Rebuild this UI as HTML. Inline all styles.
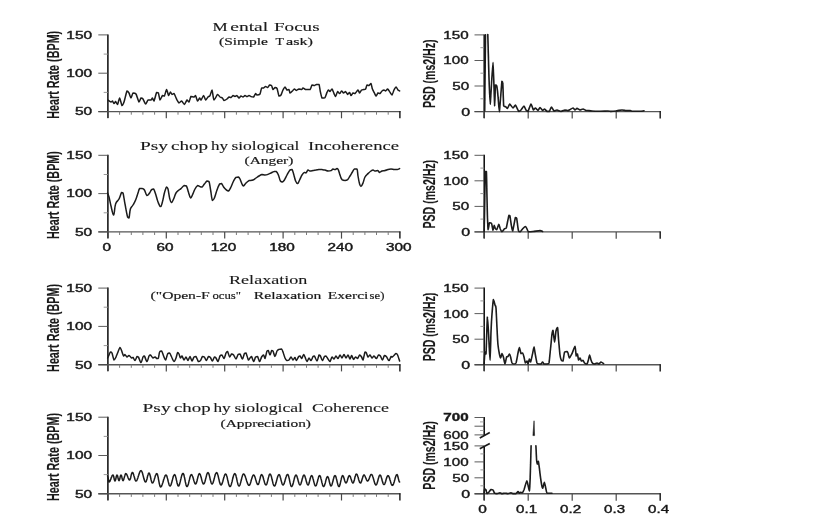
<!DOCTYPE html>
<html><head><meta charset="utf-8"><title>HRV panels</title>
<style>
html,body{margin:0;padding:0;background:#fff;}
body{width:815px;height:532px;overflow:hidden;font-family:"Liberation Sans",sans-serif;}
svg{display:block;}
</style></head><body>
<svg width="815" height="532" viewBox="0 0 815 532">
<defs><filter id="soft" x="-2%" y="-2%" width="104%" height="104%"><feGaussianBlur stdDeviation="0.5"/></filter></defs>
<rect width="815" height="532" fill="#fff"/>
<g filter="url(#soft)">
<line x1="107.9" y1="34.4" x2="107.9" y2="118.0" stroke="#111" stroke-width="1.55"/>
<line x1="98.3" y1="111.6" x2="400.4" y2="111.6" stroke="#555" stroke-width="1.4"/>
<line x1="98.3" y1="111.6" x2="107.9" y2="111.6" stroke="#4a4a4a" stroke-width="0.9"/>
<text x="92.1" y="115.4" font-family="Liberation Sans" font-size="10.5" font-weight="normal" text-anchor="end" fill="#1a1a1a" textLength="17.2" lengthAdjust="spacingAndGlyphs" stroke="#1a1a1a" stroke-width="0.4">50</text>
<line x1="98.3" y1="73.2" x2="107.9" y2="73.2" stroke="#4a4a4a" stroke-width="0.9"/>
<text x="92.1" y="77.0" font-family="Liberation Sans" font-size="10.5" font-weight="normal" text-anchor="end" fill="#1a1a1a" textLength="25.8" lengthAdjust="spacingAndGlyphs" stroke="#1a1a1a" stroke-width="0.4">100</text>
<line x1="98.3" y1="34.9" x2="107.9" y2="34.9" stroke="#4a4a4a" stroke-width="0.9"/>
<text x="92.1" y="38.7" font-family="Liberation Sans" font-size="10.5" font-weight="normal" text-anchor="end" fill="#1a1a1a" textLength="25.8" lengthAdjust="spacingAndGlyphs" stroke="#1a1a1a" stroke-width="0.4">150</text>
<line x1="103.7" y1="92.4" x2="107.9" y2="92.4" stroke="#8c8c8c" stroke-width="0.9"/>
<line x1="103.7" y1="54.1" x2="107.9" y2="54.1" stroke="#8c8c8c" stroke-width="0.9"/>
<line x1="107.9" y1="111.6" x2="107.9" y2="118.3" stroke="#4a4a4a" stroke-width="1.2"/>
<line x1="119.6" y1="111.6" x2="119.6" y2="114.7" stroke="#7a7a7a" stroke-width="1.0"/>
<line x1="131.3" y1="111.6" x2="131.3" y2="114.7" stroke="#7a7a7a" stroke-width="1.0"/>
<line x1="142.9" y1="111.6" x2="142.9" y2="114.7" stroke="#7a7a7a" stroke-width="1.0"/>
<line x1="154.6" y1="111.6" x2="154.6" y2="114.7" stroke="#7a7a7a" stroke-width="1.0"/>
<line x1="166.3" y1="111.6" x2="166.3" y2="118.3" stroke="#4a4a4a" stroke-width="1.2"/>
<line x1="178.0" y1="111.6" x2="178.0" y2="114.7" stroke="#7a7a7a" stroke-width="1.0"/>
<line x1="189.7" y1="111.6" x2="189.7" y2="114.7" stroke="#7a7a7a" stroke-width="1.0"/>
<line x1="201.3" y1="111.6" x2="201.3" y2="114.7" stroke="#7a7a7a" stroke-width="1.0"/>
<line x1="213.0" y1="111.6" x2="213.0" y2="114.7" stroke="#7a7a7a" stroke-width="1.0"/>
<line x1="224.7" y1="111.6" x2="224.7" y2="118.3" stroke="#4a4a4a" stroke-width="1.2"/>
<line x1="236.4" y1="111.6" x2="236.4" y2="114.7" stroke="#7a7a7a" stroke-width="1.0"/>
<line x1="248.1" y1="111.6" x2="248.1" y2="114.7" stroke="#7a7a7a" stroke-width="1.0"/>
<line x1="259.7" y1="111.6" x2="259.7" y2="114.7" stroke="#7a7a7a" stroke-width="1.0"/>
<line x1="271.4" y1="111.6" x2="271.4" y2="114.7" stroke="#7a7a7a" stroke-width="1.0"/>
<line x1="283.1" y1="111.6" x2="283.1" y2="118.3" stroke="#4a4a4a" stroke-width="1.2"/>
<line x1="294.8" y1="111.6" x2="294.8" y2="114.7" stroke="#7a7a7a" stroke-width="1.0"/>
<line x1="306.5" y1="111.6" x2="306.5" y2="114.7" stroke="#7a7a7a" stroke-width="1.0"/>
<line x1="318.1" y1="111.6" x2="318.1" y2="114.7" stroke="#7a7a7a" stroke-width="1.0"/>
<line x1="329.8" y1="111.6" x2="329.8" y2="114.7" stroke="#7a7a7a" stroke-width="1.0"/>
<line x1="341.5" y1="111.6" x2="341.5" y2="118.3" stroke="#4a4a4a" stroke-width="1.2"/>
<line x1="353.2" y1="111.6" x2="353.2" y2="114.7" stroke="#7a7a7a" stroke-width="1.0"/>
<line x1="364.9" y1="111.6" x2="364.9" y2="114.7" stroke="#7a7a7a" stroke-width="1.0"/>
<line x1="376.5" y1="111.6" x2="376.5" y2="114.7" stroke="#7a7a7a" stroke-width="1.0"/>
<line x1="388.2" y1="111.6" x2="388.2" y2="114.7" stroke="#7a7a7a" stroke-width="1.0"/>
<line x1="399.9" y1="111.1" x2="399.9" y2="118.3" stroke="#222" stroke-width="1.5"/>
<g transform="translate(52.6,74.8) rotate(-90)">
<text x="0.0" y="6.1" font-family="Liberation Sans" font-size="17" font-weight="bold" text-anchor="middle" fill="#1a1a1a" textLength="88.0" lengthAdjust="spacingAndGlyphs" stroke="#1a1a1a" stroke-width="0.15" stroke-linejoin="round">Heart Rate (BPM)</text>
</g>
<line x1="107.9" y1="154.8" x2="107.9" y2="238.3" stroke="#111" stroke-width="1.55"/>
<line x1="98.3" y1="231.9" x2="400.4" y2="231.9" stroke="#555" stroke-width="1.4"/>
<line x1="98.3" y1="231.9" x2="107.9" y2="231.9" stroke="#4a4a4a" stroke-width="0.9"/>
<text x="92.1" y="235.7" font-family="Liberation Sans" font-size="10.5" font-weight="normal" text-anchor="end" fill="#1a1a1a" textLength="17.2" lengthAdjust="spacingAndGlyphs" stroke="#1a1a1a" stroke-width="0.4">50</text>
<line x1="98.3" y1="193.6" x2="107.9" y2="193.6" stroke="#4a4a4a" stroke-width="0.9"/>
<text x="92.1" y="197.4" font-family="Liberation Sans" font-size="10.5" font-weight="normal" text-anchor="end" fill="#1a1a1a" textLength="25.8" lengthAdjust="spacingAndGlyphs" stroke="#1a1a1a" stroke-width="0.4">100</text>
<line x1="98.3" y1="155.3" x2="107.9" y2="155.3" stroke="#4a4a4a" stroke-width="0.9"/>
<text x="92.1" y="159.1" font-family="Liberation Sans" font-size="10.5" font-weight="normal" text-anchor="end" fill="#1a1a1a" textLength="25.8" lengthAdjust="spacingAndGlyphs" stroke="#1a1a1a" stroke-width="0.4">150</text>
<line x1="103.7" y1="212.8" x2="107.9" y2="212.8" stroke="#8c8c8c" stroke-width="0.9"/>
<line x1="103.7" y1="174.5" x2="107.9" y2="174.5" stroke="#8c8c8c" stroke-width="0.9"/>
<line x1="107.9" y1="231.9" x2="107.9" y2="238.6" stroke="#4a4a4a" stroke-width="1.2"/>
<line x1="119.6" y1="231.9" x2="119.6" y2="235.0" stroke="#7a7a7a" stroke-width="1.0"/>
<line x1="131.3" y1="231.9" x2="131.3" y2="235.0" stroke="#7a7a7a" stroke-width="1.0"/>
<line x1="142.9" y1="231.9" x2="142.9" y2="235.0" stroke="#7a7a7a" stroke-width="1.0"/>
<line x1="154.6" y1="231.9" x2="154.6" y2="235.0" stroke="#7a7a7a" stroke-width="1.0"/>
<line x1="166.3" y1="231.9" x2="166.3" y2="238.6" stroke="#4a4a4a" stroke-width="1.2"/>
<line x1="178.0" y1="231.9" x2="178.0" y2="235.0" stroke="#7a7a7a" stroke-width="1.0"/>
<line x1="189.7" y1="231.9" x2="189.7" y2="235.0" stroke="#7a7a7a" stroke-width="1.0"/>
<line x1="201.3" y1="231.9" x2="201.3" y2="235.0" stroke="#7a7a7a" stroke-width="1.0"/>
<line x1="213.0" y1="231.9" x2="213.0" y2="235.0" stroke="#7a7a7a" stroke-width="1.0"/>
<line x1="224.7" y1="231.9" x2="224.7" y2="238.6" stroke="#4a4a4a" stroke-width="1.2"/>
<line x1="236.4" y1="231.9" x2="236.4" y2="235.0" stroke="#7a7a7a" stroke-width="1.0"/>
<line x1="248.1" y1="231.9" x2="248.1" y2="235.0" stroke="#7a7a7a" stroke-width="1.0"/>
<line x1="259.7" y1="231.9" x2="259.7" y2="235.0" stroke="#7a7a7a" stroke-width="1.0"/>
<line x1="271.4" y1="231.9" x2="271.4" y2="235.0" stroke="#7a7a7a" stroke-width="1.0"/>
<line x1="283.1" y1="231.9" x2="283.1" y2="238.6" stroke="#4a4a4a" stroke-width="1.2"/>
<line x1="294.8" y1="231.9" x2="294.8" y2="235.0" stroke="#7a7a7a" stroke-width="1.0"/>
<line x1="306.5" y1="231.9" x2="306.5" y2="235.0" stroke="#7a7a7a" stroke-width="1.0"/>
<line x1="318.1" y1="231.9" x2="318.1" y2="235.0" stroke="#7a7a7a" stroke-width="1.0"/>
<line x1="329.8" y1="231.9" x2="329.8" y2="235.0" stroke="#7a7a7a" stroke-width="1.0"/>
<line x1="341.5" y1="231.9" x2="341.5" y2="238.6" stroke="#4a4a4a" stroke-width="1.2"/>
<line x1="353.2" y1="231.9" x2="353.2" y2="235.0" stroke="#7a7a7a" stroke-width="1.0"/>
<line x1="364.9" y1="231.9" x2="364.9" y2="235.0" stroke="#7a7a7a" stroke-width="1.0"/>
<line x1="376.5" y1="231.9" x2="376.5" y2="235.0" stroke="#7a7a7a" stroke-width="1.0"/>
<line x1="388.2" y1="231.9" x2="388.2" y2="235.0" stroke="#7a7a7a" stroke-width="1.0"/>
<line x1="399.9" y1="231.4" x2="399.9" y2="238.6" stroke="#222" stroke-width="1.5"/>
<g transform="translate(52.6,195.1) rotate(-90)">
<text x="0.0" y="6.1" font-family="Liberation Sans" font-size="17" font-weight="bold" text-anchor="middle" fill="#1a1a1a" textLength="88.0" lengthAdjust="spacingAndGlyphs" stroke="#1a1a1a" stroke-width="0.15" stroke-linejoin="round">Heart Rate (BPM)</text>
</g>
<line x1="107.9" y1="287.6" x2="107.9" y2="371.1" stroke="#111" stroke-width="1.55"/>
<line x1="98.3" y1="364.7" x2="400.4" y2="364.7" stroke="#555" stroke-width="1.4"/>
<line x1="98.3" y1="364.7" x2="107.9" y2="364.7" stroke="#4a4a4a" stroke-width="0.9"/>
<text x="92.1" y="368.5" font-family="Liberation Sans" font-size="10.5" font-weight="normal" text-anchor="end" fill="#1a1a1a" textLength="17.2" lengthAdjust="spacingAndGlyphs" stroke="#1a1a1a" stroke-width="0.4">50</text>
<line x1="98.3" y1="326.4" x2="107.9" y2="326.4" stroke="#4a4a4a" stroke-width="0.9"/>
<text x="92.1" y="330.2" font-family="Liberation Sans" font-size="10.5" font-weight="normal" text-anchor="end" fill="#1a1a1a" textLength="25.8" lengthAdjust="spacingAndGlyphs" stroke="#1a1a1a" stroke-width="0.4">100</text>
<line x1="98.3" y1="288.1" x2="107.9" y2="288.1" stroke="#4a4a4a" stroke-width="0.9"/>
<text x="92.1" y="291.9" font-family="Liberation Sans" font-size="10.5" font-weight="normal" text-anchor="end" fill="#1a1a1a" textLength="25.8" lengthAdjust="spacingAndGlyphs" stroke="#1a1a1a" stroke-width="0.4">150</text>
<line x1="103.7" y1="345.6" x2="107.9" y2="345.6" stroke="#8c8c8c" stroke-width="0.9"/>
<line x1="103.7" y1="307.2" x2="107.9" y2="307.2" stroke="#8c8c8c" stroke-width="0.9"/>
<line x1="107.9" y1="364.7" x2="107.9" y2="371.4" stroke="#4a4a4a" stroke-width="1.2"/>
<line x1="119.6" y1="364.7" x2="119.6" y2="367.8" stroke="#7a7a7a" stroke-width="1.0"/>
<line x1="131.3" y1="364.7" x2="131.3" y2="367.8" stroke="#7a7a7a" stroke-width="1.0"/>
<line x1="142.9" y1="364.7" x2="142.9" y2="367.8" stroke="#7a7a7a" stroke-width="1.0"/>
<line x1="154.6" y1="364.7" x2="154.6" y2="367.8" stroke="#7a7a7a" stroke-width="1.0"/>
<line x1="166.3" y1="364.7" x2="166.3" y2="371.4" stroke="#4a4a4a" stroke-width="1.2"/>
<line x1="178.0" y1="364.7" x2="178.0" y2="367.8" stroke="#7a7a7a" stroke-width="1.0"/>
<line x1="189.7" y1="364.7" x2="189.7" y2="367.8" stroke="#7a7a7a" stroke-width="1.0"/>
<line x1="201.3" y1="364.7" x2="201.3" y2="367.8" stroke="#7a7a7a" stroke-width="1.0"/>
<line x1="213.0" y1="364.7" x2="213.0" y2="367.8" stroke="#7a7a7a" stroke-width="1.0"/>
<line x1="224.7" y1="364.7" x2="224.7" y2="371.4" stroke="#4a4a4a" stroke-width="1.2"/>
<line x1="236.4" y1="364.7" x2="236.4" y2="367.8" stroke="#7a7a7a" stroke-width="1.0"/>
<line x1="248.1" y1="364.7" x2="248.1" y2="367.8" stroke="#7a7a7a" stroke-width="1.0"/>
<line x1="259.7" y1="364.7" x2="259.7" y2="367.8" stroke="#7a7a7a" stroke-width="1.0"/>
<line x1="271.4" y1="364.7" x2="271.4" y2="367.8" stroke="#7a7a7a" stroke-width="1.0"/>
<line x1="283.1" y1="364.7" x2="283.1" y2="371.4" stroke="#4a4a4a" stroke-width="1.2"/>
<line x1="294.8" y1="364.7" x2="294.8" y2="367.8" stroke="#7a7a7a" stroke-width="1.0"/>
<line x1="306.5" y1="364.7" x2="306.5" y2="367.8" stroke="#7a7a7a" stroke-width="1.0"/>
<line x1="318.1" y1="364.7" x2="318.1" y2="367.8" stroke="#7a7a7a" stroke-width="1.0"/>
<line x1="329.8" y1="364.7" x2="329.8" y2="367.8" stroke="#7a7a7a" stroke-width="1.0"/>
<line x1="341.5" y1="364.7" x2="341.5" y2="371.4" stroke="#4a4a4a" stroke-width="1.2"/>
<line x1="353.2" y1="364.7" x2="353.2" y2="367.8" stroke="#7a7a7a" stroke-width="1.0"/>
<line x1="364.9" y1="364.7" x2="364.9" y2="367.8" stroke="#7a7a7a" stroke-width="1.0"/>
<line x1="376.5" y1="364.7" x2="376.5" y2="367.8" stroke="#7a7a7a" stroke-width="1.0"/>
<line x1="388.2" y1="364.7" x2="388.2" y2="367.8" stroke="#7a7a7a" stroke-width="1.0"/>
<line x1="399.9" y1="364.2" x2="399.9" y2="371.4" stroke="#222" stroke-width="1.5"/>
<g transform="translate(52.6,327.9) rotate(-90)">
<text x="0.0" y="6.1" font-family="Liberation Sans" font-size="17" font-weight="bold" text-anchor="middle" fill="#1a1a1a" textLength="88.0" lengthAdjust="spacingAndGlyphs" stroke="#1a1a1a" stroke-width="0.15" stroke-linejoin="round">Heart Rate (BPM)</text>
</g>
<line x1="107.9" y1="416.7" x2="107.9" y2="500.2" stroke="#111" stroke-width="1.55"/>
<line x1="98.3" y1="493.8" x2="400.4" y2="493.8" stroke="#555" stroke-width="1.4"/>
<line x1="98.3" y1="493.8" x2="107.9" y2="493.8" stroke="#4a4a4a" stroke-width="0.9"/>
<text x="92.1" y="497.6" font-family="Liberation Sans" font-size="10.5" font-weight="normal" text-anchor="end" fill="#1a1a1a" textLength="17.2" lengthAdjust="spacingAndGlyphs" stroke="#1a1a1a" stroke-width="0.4">50</text>
<line x1="98.3" y1="455.5" x2="107.9" y2="455.5" stroke="#4a4a4a" stroke-width="0.9"/>
<text x="92.1" y="459.3" font-family="Liberation Sans" font-size="10.5" font-weight="normal" text-anchor="end" fill="#1a1a1a" textLength="25.8" lengthAdjust="spacingAndGlyphs" stroke="#1a1a1a" stroke-width="0.4">100</text>
<line x1="98.3" y1="417.2" x2="107.9" y2="417.2" stroke="#4a4a4a" stroke-width="0.9"/>
<text x="92.1" y="421.0" font-family="Liberation Sans" font-size="10.5" font-weight="normal" text-anchor="end" fill="#1a1a1a" textLength="25.8" lengthAdjust="spacingAndGlyphs" stroke="#1a1a1a" stroke-width="0.4">150</text>
<line x1="103.7" y1="474.6" x2="107.9" y2="474.6" stroke="#8c8c8c" stroke-width="0.9"/>
<line x1="103.7" y1="436.4" x2="107.9" y2="436.4" stroke="#8c8c8c" stroke-width="0.9"/>
<line x1="107.9" y1="493.8" x2="107.9" y2="500.5" stroke="#4a4a4a" stroke-width="1.2"/>
<line x1="119.6" y1="493.8" x2="119.6" y2="496.9" stroke="#7a7a7a" stroke-width="1.0"/>
<line x1="131.3" y1="493.8" x2="131.3" y2="496.9" stroke="#7a7a7a" stroke-width="1.0"/>
<line x1="142.9" y1="493.8" x2="142.9" y2="496.9" stroke="#7a7a7a" stroke-width="1.0"/>
<line x1="154.6" y1="493.8" x2="154.6" y2="496.9" stroke="#7a7a7a" stroke-width="1.0"/>
<line x1="166.3" y1="493.8" x2="166.3" y2="500.5" stroke="#4a4a4a" stroke-width="1.2"/>
<line x1="178.0" y1="493.8" x2="178.0" y2="496.9" stroke="#7a7a7a" stroke-width="1.0"/>
<line x1="189.7" y1="493.8" x2="189.7" y2="496.9" stroke="#7a7a7a" stroke-width="1.0"/>
<line x1="201.3" y1="493.8" x2="201.3" y2="496.9" stroke="#7a7a7a" stroke-width="1.0"/>
<line x1="213.0" y1="493.8" x2="213.0" y2="496.9" stroke="#7a7a7a" stroke-width="1.0"/>
<line x1="224.7" y1="493.8" x2="224.7" y2="500.5" stroke="#4a4a4a" stroke-width="1.2"/>
<line x1="236.4" y1="493.8" x2="236.4" y2="496.9" stroke="#7a7a7a" stroke-width="1.0"/>
<line x1="248.1" y1="493.8" x2="248.1" y2="496.9" stroke="#7a7a7a" stroke-width="1.0"/>
<line x1="259.7" y1="493.8" x2="259.7" y2="496.9" stroke="#7a7a7a" stroke-width="1.0"/>
<line x1="271.4" y1="493.8" x2="271.4" y2="496.9" stroke="#7a7a7a" stroke-width="1.0"/>
<line x1="283.1" y1="493.8" x2="283.1" y2="500.5" stroke="#4a4a4a" stroke-width="1.2"/>
<line x1="294.8" y1="493.8" x2="294.8" y2="496.9" stroke="#7a7a7a" stroke-width="1.0"/>
<line x1="306.5" y1="493.8" x2="306.5" y2="496.9" stroke="#7a7a7a" stroke-width="1.0"/>
<line x1="318.1" y1="493.8" x2="318.1" y2="496.9" stroke="#7a7a7a" stroke-width="1.0"/>
<line x1="329.8" y1="493.8" x2="329.8" y2="496.9" stroke="#7a7a7a" stroke-width="1.0"/>
<line x1="341.5" y1="493.8" x2="341.5" y2="500.5" stroke="#4a4a4a" stroke-width="1.2"/>
<line x1="353.2" y1="493.8" x2="353.2" y2="496.9" stroke="#7a7a7a" stroke-width="1.0"/>
<line x1="364.9" y1="493.8" x2="364.9" y2="496.9" stroke="#7a7a7a" stroke-width="1.0"/>
<line x1="376.5" y1="493.8" x2="376.5" y2="496.9" stroke="#7a7a7a" stroke-width="1.0"/>
<line x1="388.2" y1="493.8" x2="388.2" y2="496.9" stroke="#7a7a7a" stroke-width="1.0"/>
<line x1="399.9" y1="493.3" x2="399.9" y2="500.5" stroke="#222" stroke-width="1.5"/>
<g transform="translate(52.6,457.0) rotate(-90)">
<text x="0.0" y="6.1" font-family="Liberation Sans" font-size="17" font-weight="bold" text-anchor="middle" fill="#1a1a1a" textLength="88.0" lengthAdjust="spacingAndGlyphs" stroke="#1a1a1a" stroke-width="0.15" stroke-linejoin="round">Heart Rate (BPM)</text>
</g>
<text x="106.7" y="250.7" font-family="Liberation Sans" font-size="10" font-weight="normal" text-anchor="middle" fill="#1a1a1a" textLength="8.5" lengthAdjust="spacingAndGlyphs" stroke="#1a1a1a" stroke-width="0.4">0</text>
<text x="165.1" y="250.7" font-family="Liberation Sans" font-size="10" font-weight="normal" text-anchor="middle" fill="#1a1a1a" textLength="17.0" lengthAdjust="spacingAndGlyphs" stroke="#1a1a1a" stroke-width="0.4">60</text>
<text x="223.5" y="250.7" font-family="Liberation Sans" font-size="10" font-weight="normal" text-anchor="middle" fill="#1a1a1a" textLength="25.5" lengthAdjust="spacingAndGlyphs" stroke="#1a1a1a" stroke-width="0.4">120</text>
<text x="281.9" y="250.7" font-family="Liberation Sans" font-size="10" font-weight="normal" text-anchor="middle" fill="#1a1a1a" textLength="25.5" lengthAdjust="spacingAndGlyphs" stroke="#1a1a1a" stroke-width="0.4">180</text>
<text x="340.3" y="250.7" font-family="Liberation Sans" font-size="10" font-weight="normal" text-anchor="middle" fill="#1a1a1a" textLength="25.5" lengthAdjust="spacingAndGlyphs" stroke="#1a1a1a" stroke-width="0.4">240</text>
<text x="398.7" y="250.7" font-family="Liberation Sans" font-size="10" font-weight="normal" text-anchor="middle" fill="#1a1a1a" textLength="25.5" lengthAdjust="spacingAndGlyphs" stroke="#1a1a1a" stroke-width="0.4">300</text>
<path d="M108.0,100.0 C108.3,100.2 110.5,101.9 111.0,102.0 C111.5,102.0 112.1,101.0 112.4,101.0 C112.8,101.2 113.6,103.5 114.0,103.6 C114.4,103.6 115.2,101.6 115.6,101.6 C116.0,101.7 117.1,104.4 117.6,104.4 C118.1,104.0 119.1,98.0 119.6,98.0 C120.1,98.1 121.5,105.1 122.0,105.6 C122.5,105.6 123.4,103.7 124.0,102.0 C124.6,100.3 126.4,92.0 127.0,91.0 C127.6,91.0 128.5,92.2 129.0,93.0 C129.5,93.8 130.5,98.0 131.0,98.0 C131.5,98.0 132.4,93.5 133.0,93.0 C133.6,93.0 135.3,93.0 136.0,94.0 C136.7,95.0 138.4,101.5 139.0,102.0 C139.6,102.0 140.5,98.3 141.0,98.0 C141.5,98.0 142.5,98.3 143.0,99.0 C143.5,99.7 145.0,103.9 145.6,104.0 C146.2,104.0 147.4,100.5 148.0,100.0 C148.6,100.0 150.5,100.0 151.0,100.0 C151.5,99.8 152.1,98.0 152.4,98.0 C152.8,98.1 153.5,101.0 154.0,101.0 C154.5,100.3 156.1,93.3 156.6,92.4 C157.1,92.4 158.0,92.4 158.4,93.0 C158.8,93.9 159.5,99.7 160.0,100.0 C160.5,100.0 161.9,96.1 162.4,95.6 C162.9,95.6 163.9,96.0 164.4,96.0 C164.9,95.3 166.1,89.6 166.6,89.6 C167.1,89.6 168.2,95.3 168.6,95.6 C169.0,95.6 170.0,92.1 170.4,92.0 C170.8,92.0 171.6,94.2 172.0,94.4 C172.4,94.4 173.4,93.6 174.0,93.6 C174.6,94.3 176.4,98.9 177.0,100.0 C177.6,101.1 178.5,102.9 179.0,103.0 C179.5,103.0 181.0,101.0 181.6,101.0 C182.2,101.2 183.8,104.4 184.4,104.4 C185.0,104.3 186.5,100.3 187.0,100.0 C187.5,100.0 188.5,102.0 189.0,102.0 C189.5,101.6 190.4,97.0 191.0,96.4 C191.6,96.4 193.5,97.0 194.0,97.0 C194.5,96.9 195.2,95.6 195.6,95.6 C196.0,96.1 197.1,100.7 197.6,101.0 C198.1,101.0 199.2,98.1 199.6,98.0 C200.0,98.0 200.5,100.0 201.0,100.0 C201.5,99.7 203.1,95.6 203.6,95.6 C204.1,95.6 205.1,99.8 205.6,100.0 C206.1,100.0 207.5,97.5 208.0,97.0 C208.5,96.5 209.5,96.4 210.0,95.6 C210.5,94.8 211.5,90.0 212.0,90.0 C212.5,90.5 213.3,99.5 214.0,100.0 C214.7,100.0 216.9,94.8 217.6,94.4 C218.3,94.4 219.4,96.6 220.0,97.0 C220.6,97.4 221.9,97.6 222.4,98.0 C222.9,98.4 223.5,100.3 224.0,100.4 C224.5,100.4 226.4,99.4 227.0,99.0 C227.6,98.6 228.5,97.2 229.0,97.0 C229.5,97.0 230.5,97.6 231.0,97.6 C231.5,97.4 232.5,95.7 233.0,95.6 C233.5,95.6 234.5,96.4 235.0,96.4 C235.5,96.4 236.5,95.6 237.0,95.6 C237.5,95.8 238.5,98.0 239.0,98.0 C239.5,98.0 240.5,96.1 241.0,96.0 C241.5,96.0 242.5,97.0 243.0,97.0 C243.5,97.0 244.5,95.6 245.0,95.6 C245.5,95.6 246.5,96.6 247.0,96.6 C247.5,96.6 248.5,95.6 249.0,95.6 C249.5,95.6 250.5,96.4 251.0,96.6 C251.5,96.8 253.1,97.0 253.6,97.0 C254.1,96.7 255.2,93.8 255.6,93.6 C256.0,93.6 256.5,95.0 257.0,95.0 C257.5,95.0 259.5,94.8 260.0,94.0 C260.5,93.2 261.2,88.7 261.6,88.0 C262.0,88.0 263.1,88.0 263.6,88.0 C264.1,87.8 265.1,86.4 265.6,86.4 C266.1,86.4 267.1,87.6 267.6,87.6 C268.1,87.4 269.1,85.2 269.6,85.0 C270.1,85.0 271.2,85.1 271.6,85.6 C272.0,86.1 272.6,89.4 273.0,89.6 C273.4,89.6 274.5,87.7 275.0,87.6 C275.5,87.6 276.5,87.6 277.0,88.4 C277.5,89.4 278.5,95.2 279.0,96.0 C279.5,96.0 280.5,95.7 281.0,95.0 C281.5,94.3 282.5,90.9 283.0,90.0 C283.5,89.1 284.5,87.0 285.0,87.0 C285.5,87.0 286.5,89.7 287.0,90.0 C287.5,90.0 288.6,89.6 289.0,89.6 C289.4,89.9 289.6,92.8 290.0,93.0 C290.4,93.0 291.9,91.5 292.4,91.0 C292.9,90.5 293.9,89.1 294.4,89.0 C294.9,89.0 295.9,90.4 296.4,90.4 C296.9,90.4 298.4,89.1 299.0,89.0 C299.6,89.0 301.1,89.6 301.6,89.6 C302.1,89.5 302.5,88.0 303.0,88.0 C303.5,88.0 304.8,89.4 305.6,89.6 C306.4,89.6 309.3,89.6 310.0,89.6 C310.7,89.1 311.5,85.5 312.0,85.0 C312.5,85.0 313.9,85.6 314.4,85.6 C314.9,85.5 315.9,84.5 316.4,84.4 C316.9,84.4 318.5,84.4 319.0,84.4 C319.5,85.3 320.0,90.4 320.4,92.0 C320.8,93.6 321.5,97.3 322.0,98.0 C322.5,98.0 324.4,98.0 325.0,97.6 C325.6,96.9 326.6,93.3 327.0,92.4 C327.4,91.5 328.0,90.1 328.4,90.0 C328.8,90.0 329.6,91.6 330.0,91.6 C330.4,91.5 331.5,89.0 332.0,89.0 C332.5,89.2 333.6,92.7 334.0,93.6 C334.4,94.5 335.2,96.4 335.6,96.4 C336.0,96.2 337.1,91.9 337.6,91.6 C338.1,91.6 339.1,93.6 339.6,93.6 C340.1,93.5 341.1,91.1 341.6,91.0 C342.1,91.0 343.1,92.9 343.6,93.0 C344.1,93.0 345.1,91.6 345.6,91.6 C346.1,91.8 347.1,94.3 347.6,94.4 C348.1,94.4 349.2,92.4 349.6,92.4 C350.0,92.5 350.6,95.5 351.0,95.6 C351.4,95.6 352.5,93.2 353.0,93.0 C353.5,93.0 354.4,93.6 355.0,93.6 C355.6,93.2 357.5,90.1 358.0,90.0 C358.5,90.0 359.2,93.0 359.6,93.0 C360.0,93.0 361.1,90.4 361.6,90.0 C362.1,89.6 363.1,89.7 363.6,89.6 C364.1,89.5 365.2,89.5 365.6,89.0 C366.0,88.5 366.6,85.4 367.0,85.0 C367.4,85.0 368.5,85.6 369.0,85.6 C369.5,85.4 370.6,83.6 371.0,83.6 C371.4,84.0 372.0,87.9 372.4,89.0 C372.8,90.1 374.0,92.2 374.4,93.0 C374.8,93.8 375.6,96.0 376.0,96.0 C376.4,96.0 377.5,93.3 378.0,93.0 C378.5,93.0 379.5,93.6 380.0,93.6 C380.5,93.4 381.5,91.4 382.0,91.0 C382.5,90.6 383.6,90.0 384.0,90.0 C384.4,90.0 385.2,91.0 385.6,91.0 C386.0,90.9 387.1,89.0 387.6,89.0 C388.1,89.1 389.1,90.9 389.6,91.6 C390.1,92.3 391.5,95.0 392.0,95.0 C392.5,94.8 393.5,90.9 394.0,90.0 C394.5,89.1 395.5,87.0 396.0,87.0 C396.5,87.0 397.6,89.5 398.0,90.0 C398.4,90.5 399.4,90.9 399.6,91.0" fill="none" stroke="#1a1a1a" stroke-width="1.5" stroke-linejoin="round" stroke-linecap="round"/>
<path d="M107.6,193.0 C107.9,193.8 108.3,194.4 109.0,197.0 C109.7,199.6 110.1,202.4 111.0,206.0 C111.9,209.6 112.7,215.0 113.6,215.0 C114.5,214.6 114.5,207.2 115.6,204.0 C116.7,200.8 117.8,201.3 119.0,199.0 C120.2,196.7 120.8,193.6 121.6,192.4 C122.4,192.4 122.3,192.4 123.0,193.0 C123.7,195.3 124.1,199.2 125.0,204.0 C125.9,208.8 126.8,214.2 127.6,217.0 C128.4,218.0 128.4,218.0 129.0,218.0 C129.6,216.4 129.6,211.6 130.4,209.0 C131.2,206.4 132.0,206.8 133.0,205.0 C134.0,203.2 134.6,202.4 135.6,200.0 C136.6,197.6 137.2,195.3 138.0,193.0 C138.8,190.7 138.7,189.5 139.6,188.6 C140.5,188.6 141.4,188.6 142.4,188.6 C143.4,188.9 143.5,188.6 144.4,190.0 C145.3,191.4 146.0,195.0 147.0,195.6 C148.0,195.6 148.7,194.2 149.6,193.0 C150.5,191.8 150.8,190.4 151.6,189.6 C152.4,189.0 152.8,189.0 153.6,189.0 C154.4,189.9 154.7,191.4 155.6,194.0 C156.5,196.6 157.0,199.5 158.0,202.0 C159.0,204.5 159.7,206.6 160.6,206.6 C161.5,206.6 161.6,204.7 162.4,202.0 C163.2,199.3 163.6,196.0 164.4,193.0 C165.2,190.0 165.9,187.8 166.6,187.0 C167.3,187.0 167.4,187.0 168.0,189.0 C168.6,191.2 168.9,195.3 169.6,198.0 C170.3,200.7 170.6,202.4 171.4,202.6 C172.2,202.6 172.7,200.9 173.6,199.0 C174.5,197.1 174.9,194.8 176.0,193.0 C177.1,191.2 178.0,190.9 179.0,190.0 C180.0,189.1 180.0,189.5 181.0,188.6 C182.0,187.7 182.9,186.1 184.0,185.6 C185.1,185.6 185.5,185.6 186.4,186.0 C187.3,187.3 187.6,189.6 188.4,192.0 C189.2,194.4 189.8,197.4 190.6,198.0 C191.4,198.0 191.5,196.8 192.4,195.0 C193.3,193.2 194.0,190.9 195.0,189.0 C196.0,187.1 196.6,186.1 197.6,185.6 C198.6,185.6 199.1,186.3 200.0,186.6 C200.9,186.9 201.1,187.0 202.0,187.0 C202.9,186.5 203.4,185.2 204.4,184.0 C205.4,182.8 206.1,181.5 207.0,181.0 C207.9,181.0 208.3,181.0 209.0,181.6 C209.7,183.4 209.9,186.2 210.6,190.0 C211.3,193.8 211.6,198.8 212.4,200.4 C213.2,200.4 213.5,200.1 214.4,198.0 C215.3,195.9 216.0,192.8 217.0,190.0 C218.0,187.2 218.7,185.3 219.6,184.0 C220.5,183.6 220.8,183.6 221.6,183.6 C222.4,184.2 222.7,185.8 223.6,187.0 C224.5,188.2 225.0,188.8 226.0,189.6 C227.0,190.4 227.4,191.0 228.4,191.0 C229.4,190.5 230.0,189.0 231.0,187.0 C232.0,185.0 232.6,182.9 233.6,181.0 C234.6,179.1 235.0,178.2 236.0,177.4 C237.0,177.0 237.6,177.0 238.4,177.0 C239.2,177.3 239.3,177.6 240.0,179.0 C240.7,180.4 241.3,182.6 242.0,184.0 C242.7,185.4 242.6,186.0 243.4,186.0 C244.2,185.8 244.9,184.1 246.0,183.0 C247.1,181.9 248.2,181.1 249.0,180.6 C249.8,180.6 249.2,180.6 250.0,180.6 C250.8,180.5 251.8,180.5 253.0,180.0 C254.2,179.5 254.8,178.8 256.0,178.0 C257.2,177.2 257.8,176.7 259.0,176.0 C260.2,175.3 260.8,174.6 262.0,174.4 C263.2,174.4 263.8,175.0 265.0,175.0 C266.2,175.0 266.8,174.8 268.0,174.4 C269.2,174.0 269.8,173.6 271.0,173.0 C272.2,172.4 272.9,171.9 274.0,171.6 C275.1,171.6 275.5,171.6 276.4,171.6 C277.3,172.3 277.6,173.1 278.4,175.0 C279.2,176.9 279.6,179.6 280.4,181.0 C281.2,182.0 281.6,182.0 282.4,182.0 C283.2,181.8 283.5,181.4 284.4,180.0 C285.3,178.6 285.9,177.0 287.0,175.0 C288.1,173.0 289.0,171.1 290.0,170.0 C291.0,169.4 291.3,169.4 292.0,169.4 C292.7,170.2 292.9,171.7 293.6,174.0 C294.3,176.3 294.8,179.1 295.6,181.0 C296.4,182.9 296.8,183.6 297.6,183.6 C298.4,183.4 298.7,181.7 299.6,180.0 C300.5,178.3 301.0,176.5 302.0,175.0 C303.0,173.5 303.6,172.8 304.4,172.4 C305.2,172.4 305.3,173.0 306.0,173.0 C306.7,172.5 307.2,170.4 308.0,170.0 C308.8,170.0 309.0,170.9 310.0,171.0 C311.0,171.0 311.8,170.8 313.0,170.6 C314.2,170.4 314.8,170.2 316.0,170.0 C317.2,169.8 317.8,169.7 319.0,169.6 C320.2,169.6 320.8,169.6 322.0,169.6 C323.2,169.7 323.8,169.7 325.0,170.0 C326.2,170.3 326.8,170.9 328.0,171.0 C329.2,171.0 330.0,171.0 331.0,170.6 C332.0,170.2 332.2,169.2 333.0,169.0 C333.8,169.0 334.2,169.6 335.0,169.6 C335.8,169.5 336.3,168.6 337.0,168.6 C337.7,168.7 337.8,168.7 338.4,170.0 C339.0,171.3 339.3,173.1 340.0,175.0 C340.7,176.9 341.0,178.5 342.0,179.6 C343.0,180.4 343.9,180.4 345.0,180.4 C346.1,180.4 346.6,180.4 347.6,179.6 C348.6,178.7 349.0,177.5 350.0,176.0 C351.0,174.5 351.5,173.4 352.4,172.0 C353.3,170.6 353.5,169.6 354.4,169.0 C355.3,169.0 356.3,169.0 357.0,169.0 C357.7,170.4 357.5,173.0 358.0,176.0 C358.5,179.0 359.0,181.9 359.6,184.0 C360.2,186.1 360.3,186.4 361.0,186.4 C361.7,186.2 362.2,184.9 363.0,183.0 C363.8,181.1 364.0,178.9 365.0,177.0 C366.0,175.1 366.8,174.8 368.0,173.6 C369.2,172.4 370.0,171.7 371.0,171.0 C372.0,170.3 372.2,170.0 373.0,170.0 C373.8,170.0 374.0,170.9 375.0,171.0 C376.0,171.0 377.1,170.6 378.0,170.6 C378.9,170.9 378.8,172.3 379.6,172.4 C380.4,172.4 380.9,171.4 382.0,171.0 C383.1,170.6 383.8,170.9 385.0,170.6 C386.2,170.3 386.8,169.7 388.0,169.4 C389.2,169.1 389.8,169.0 391.0,169.0 C392.2,169.0 392.8,169.3 394.0,169.4 C395.2,169.5 395.9,169.6 397.0,169.6 C398.1,169.4 399.1,168.8 399.6,168.6" fill="none" stroke="#1a1a1a" stroke-width="1.5" stroke-linejoin="round" stroke-linecap="round"/>
<path d="M107.6,358.0 C107.8,357.6 108.6,355.9 109.0,355.0 C109.4,354.1 110.0,352.3 110.4,352.0 C110.9,352.0 111.5,352.0 112.0,353.0 C112.5,354.2 113.4,359.4 114.0,360.0 C114.6,360.0 115.4,358.2 116.0,357.0 C116.6,355.8 117.4,353.4 118.0,352.0 C118.6,350.6 119.5,347.6 120.0,347.4 C120.5,347.4 121.1,349.3 121.6,350.6 C122.1,351.9 123.1,355.4 123.6,356.0 C124.1,356.0 124.5,354.6 125.0,354.6 C125.5,354.8 126.4,356.9 127.0,357.0 C127.6,357.0 128.3,355.4 129.0,355.4 C129.7,355.5 131.0,357.7 131.6,358.0 C132.2,358.0 132.5,357.4 133.0,357.4 C133.5,357.8 134.4,360.6 135.0,360.6 C135.6,360.5 136.5,357.1 137.0,356.6 C137.5,356.6 137.8,356.6 138.4,357.0 C139.0,357.9 140.3,362.6 141.0,362.6 C141.7,362.6 142.5,358.0 143.0,357.0 C143.5,356.0 143.8,356.0 144.4,356.0 C145.0,356.7 146.3,361.6 147.0,361.6 C147.7,361.6 148.5,357.0 149.0,356.0 C149.5,355.0 149.8,355.0 150.4,355.0 C151.0,355.3 152.3,357.7 153.0,358.0 C153.7,358.0 154.4,357.0 155.0,357.0 C155.6,357.1 156.5,358.5 157.0,358.6 C157.5,358.6 158.0,358.6 158.4,358.0 C158.8,357.0 159.1,353.1 159.6,352.0 C160.1,351.0 161.0,351.0 161.6,351.0 C162.2,351.6 163.0,354.6 163.6,356.0 C164.2,357.4 165.0,360.0 165.6,360.0 C166.2,359.7 167.0,355.1 167.6,354.0 C168.2,353.0 169.0,353.0 169.6,353.0 C170.2,353.4 170.9,355.7 171.6,357.0 C172.3,358.3 173.3,361.5 174.0,361.6 C174.7,361.6 175.5,359.4 176.0,358.0 C176.5,356.6 177.2,353.2 177.6,352.6 C178.0,352.6 178.6,353.2 179.0,354.0 C179.4,354.8 180.0,357.7 180.4,358.0 C180.8,358.0 181.5,356.0 182.0,356.0 C182.5,356.3 183.4,359.9 184.0,360.0 C184.6,360.0 185.4,357.0 186.0,357.0 C186.6,357.1 187.4,360.6 188.0,360.6 C188.6,360.5 189.4,356.6 190.0,356.6 C190.6,356.7 191.4,360.9 192.0,361.0 C192.6,361.0 193.4,357.7 194.0,357.0 C194.6,356.6 195.3,356.6 196.0,356.6 C196.7,357.3 197.7,361.0 198.4,361.6 C199.1,361.6 199.8,361.4 200.4,360.6 C201.0,359.9 201.8,357.1 202.4,356.6 C203.0,356.6 203.8,356.6 204.4,357.0 C205.0,357.6 205.8,360.6 206.4,360.6 C207.0,360.5 207.8,357.1 208.4,356.6 C209.0,356.6 209.8,356.9 210.4,357.6 C211.0,358.3 211.8,361.0 212.4,361.0 C213.0,360.9 213.9,357.4 214.4,357.0 C214.9,357.0 215.5,357.3 216.0,358.0 C216.5,358.7 217.4,361.6 218.0,361.6 C218.6,361.3 219.4,357.0 220.0,356.0 C220.6,355.0 221.4,355.0 222.0,355.0 C222.6,355.4 223.4,358.6 224.0,358.6 C224.6,358.3 225.5,354.1 226.0,353.0 C226.5,351.9 227.1,351.4 227.6,351.4 C228.1,352.0 229.0,356.6 229.6,357.0 C230.2,357.0 231.0,354.3 231.6,354.0 C232.2,354.0 232.9,354.2 233.6,355.0 C234.3,355.8 235.3,359.0 236.0,359.0 C236.7,358.9 237.4,355.4 238.0,354.6 C238.6,354.0 239.3,354.0 240.0,354.0 C240.7,354.7 241.7,359.0 242.4,359.0 C243.1,358.9 243.9,354.5 244.4,353.6 C244.9,353.0 245.4,353.0 246.0,353.0 C246.6,354.0 247.8,359.2 248.4,360.0 C249.0,360.0 249.5,358.5 250.0,358.0 C250.5,357.5 251.1,356.6 251.6,356.6 C252.1,357.1 253.0,361.5 253.6,361.6 C254.2,361.6 255.0,357.8 255.6,357.0 C256.2,356.6 257.0,356.6 257.6,356.6 C258.2,357.3 259.0,361.5 259.6,361.6 C260.2,361.6 261.0,358.0 261.6,357.0 C262.2,356.0 263.1,355.0 263.6,355.0 C264.1,355.2 264.5,358.6 265.0,358.6 C265.5,358.0 266.5,352.2 267.0,351.0 C267.5,350.6 267.9,350.6 268.4,350.6 C268.8,351.2 269.5,355.0 270.0,355.0 C270.5,355.0 271.2,351.2 271.6,350.6 C272.1,350.6 272.5,350.6 273.0,351.0 C273.5,351.9 274.4,356.6 275.0,356.6 C275.6,356.6 276.4,352.1 277.0,351.0 C277.6,349.9 278.3,349.7 279.0,349.4 C279.7,349.1 281.0,349.0 281.6,349.0 C282.2,349.4 282.5,350.6 283.0,352.0 C283.5,353.4 284.4,356.7 285.0,358.0 C285.6,359.3 286.4,360.3 287.0,360.6 C287.6,360.6 288.4,360.5 289.0,360.0 C289.6,359.5 290.4,357.0 291.0,357.0 C291.6,357.0 292.4,359.9 293.0,360.0 C293.6,360.0 294.5,357.6 295.0,357.6 C295.5,357.7 295.9,360.6 296.4,360.6 C296.9,360.5 297.9,357.7 298.4,357.0 C298.9,356.3 299.5,356.0 300.0,356.0 C300.5,356.2 301.1,358.6 301.6,358.6 C302.1,358.4 303.1,354.8 303.6,354.6 C304.1,354.6 304.5,355.9 305.0,357.0 C305.5,358.1 306.4,361.5 307.0,361.6 C307.6,361.6 308.4,358.1 309.0,358.0 C309.6,358.0 310.4,360.6 311.0,360.6 C311.6,360.4 312.5,357.3 313.0,356.6 C313.5,356.0 313.8,356.0 314.4,356.0 C315.0,356.7 316.3,361.0 317.0,361.0 C317.7,360.9 318.5,355.8 319.0,355.0 C319.5,355.0 319.9,355.2 320.4,356.0 C320.9,356.8 321.8,360.5 322.4,360.6 C323.0,360.6 323.9,357.3 324.4,356.6 C324.9,356.0 325.5,356.0 326.0,356.0 C326.5,356.4 327.4,358.2 328.0,359.0 C328.6,359.8 329.4,361.6 330.0,361.6 C330.6,361.3 331.4,357.4 332.0,357.0 C332.6,357.0 333.4,359.0 334.0,359.0 C334.6,358.9 335.4,356.1 336.0,356.0 C336.6,356.0 337.4,358.6 338.0,358.6 C338.6,358.5 339.4,355.1 340.0,355.0 C340.6,355.0 341.4,358.0 342.0,358.0 C342.6,357.9 343.4,354.6 344.0,354.6 C344.6,354.6 345.4,357.9 346.0,358.0 C346.6,358.0 347.4,355.0 348.0,355.0 C348.6,355.1 349.5,358.9 350.0,359.0 C350.5,359.0 351.1,355.6 351.6,355.6 C352.1,355.7 353.0,359.2 353.6,359.4 C354.2,359.4 355.0,357.1 355.6,357.0 C356.2,357.0 357.0,358.6 357.6,358.6 C358.2,358.3 359.0,355.2 359.6,355.0 C360.2,355.0 361.1,356.2 361.6,357.0 C362.1,357.8 362.5,360.0 363.0,360.0 C363.5,359.2 364.5,353.1 365.0,352.0 C365.5,352.0 365.9,352.2 366.4,353.0 C366.8,353.8 367.5,356.7 368.0,357.0 C368.5,357.0 369.4,355.0 370.0,355.0 C370.6,355.1 371.4,357.9 372.0,358.0 C372.6,358.0 373.3,356.0 374.0,356.0 C374.7,356.1 375.7,358.6 376.4,358.6 C377.1,358.5 377.8,355.4 378.4,355.0 C379.0,355.0 379.8,355.2 380.4,356.0 C381.0,356.8 381.8,360.0 382.4,360.0 C383.0,359.9 383.8,356.1 384.4,355.6 C385.0,355.6 385.7,355.9 386.4,356.6 C387.1,357.4 388.3,360.6 389.0,360.6 C389.7,360.6 390.5,357.1 391.0,356.6 C391.5,356.6 391.9,357.0 392.4,357.0 C392.9,356.8 393.9,355.5 394.4,355.0 C394.9,354.5 395.5,353.6 396.0,353.6 C396.5,353.6 397.1,353.9 397.6,355.0 C398.1,356.1 399.3,360.1 399.6,361.0" fill="none" stroke="#1a1a1a" stroke-width="1.5" stroke-linejoin="round" stroke-linecap="round"/>
<polyline points="107.6,476.0 107.9,476.9 108.3,479.0 108.7,481.1 109.0,482.0 109.3,481.9 109.7,481.5 110.0,481.0 110.3,480.2 110.7,479.4 111.0,478.5 111.3,477.6 111.7,476.8 112.0,476.0 112.3,475.5 112.7,475.1 113.0,475.0 113.3,475.4 113.7,476.5 114.0,478.0 114.3,479.5 114.7,480.6 115.0,481.0 115.3,480.6 115.7,479.5 116.0,478.0 116.3,476.5 116.7,475.4 117.0,475.0 117.3,475.4 117.7,476.4 118.0,477.8 118.3,479.2 118.7,480.2 119.0,480.6 119.3,480.2 119.7,479.2 120.0,477.8 120.3,476.4 120.7,475.4 121.0,475.0 121.3,475.4 121.7,476.4 122.0,477.8 122.3,479.2 122.7,480.2 123.0,480.6 123.3,480.3 123.7,479.6 124.0,478.4 124.4,477.1 124.8,475.8 125.1,474.6 125.5,473.9 125.8,473.6 126.1,473.7 126.5,474.1 126.8,474.7 127.2,475.5 127.5,476.3 127.9,477.3 128.2,478.1 128.6,478.9 128.9,479.5 129.3,479.9 129.6,480.0 129.9,479.7 130.3,478.9 130.7,477.7 131.0,476.2 131.3,474.7 131.7,473.5 132.1,472.7 132.4,472.4 132.8,472.6 133.1,473.2 133.5,474.2 133.8,475.4 134.2,476.7 134.6,478.0 134.9,479.2 135.3,480.2 135.6,480.8 136.0,481.0 136.3,480.9 136.7,480.6 137.0,480.0 137.3,479.3 137.7,478.4 138.0,477.4 138.3,476.3 138.7,475.3 139.0,474.2 139.3,473.2 139.7,472.3 140.0,471.6 140.3,471.0 140.7,470.7 141.0,470.6 141.4,470.8 141.7,471.3 142.1,472.0 142.4,473.1 142.8,474.3 143.1,475.6 143.5,477.0 143.8,478.3 144.2,479.5 144.5,480.6 144.9,481.3 145.2,481.8 145.6,482.0 145.9,481.8 146.3,481.1 146.6,480.1 147.0,478.9 147.3,477.5 147.6,476.1 148.0,474.9 148.3,473.9 148.7,473.2 149.0,473.0 149.3,473.2 149.7,474.0 150.0,475.1 150.4,476.5 150.7,478.0 151.0,479.5 151.4,480.9 151.7,482.0 152.1,482.8 152.4,483.0 152.7,482.9 153.1,482.5 153.4,481.8 153.8,481.0 154.1,480.0 154.4,478.9 154.8,477.7 155.1,476.6 155.4,475.6 155.8,474.8 156.1,474.1 156.5,473.7 156.8,473.6 157.1,473.9 157.5,474.7 157.8,475.9 158.2,477.5 158.5,479.3 158.9,481.3 159.2,483.1 159.6,484.7 159.9,485.9 160.3,486.7 160.6,487.0 160.9,486.9 161.3,486.5 161.6,486.0 161.9,485.2 162.3,484.3 162.6,483.3 163.0,482.2 163.3,481.0 163.6,479.8 164.0,478.7 164.3,477.7 164.7,476.8 165.0,476.0 165.3,475.5 165.7,475.1 166.0,475.0 166.3,475.2 166.7,475.7 167.0,476.6 167.3,477.8 167.7,479.1 168.0,480.5 168.3,481.9 168.7,483.2 169.0,484.4 169.3,485.3 169.7,485.8 170.0,486.0 170.4,485.8 170.7,485.3 171.1,484.6 171.4,483.5 171.8,482.3 172.1,481.0 172.5,479.6 172.8,478.3 173.2,477.1 173.5,476.0 173.9,475.3 174.2,474.8 174.6,474.6 174.9,474.8 175.3,475.5 175.6,476.6 176.0,477.9 176.3,479.5 176.7,481.1 177.0,482.7 177.4,484.0 177.7,485.1 178.1,485.8 178.4,486.0 178.8,485.8 179.1,485.3 179.5,484.4 179.8,483.3 180.2,481.9 180.5,480.5 180.9,478.9 181.2,477.5 181.6,476.1 181.9,475.0 182.3,474.1 182.6,473.6 183.0,473.4 183.3,473.6 183.7,474.3 184.0,475.3 184.3,476.7 184.7,478.3 185.0,480.0 185.3,481.7 185.7,483.3 186.0,484.7 186.3,485.7 186.7,486.4 187.0,486.6 187.3,486.4 187.7,485.9 188.0,485.1 188.4,484.0 188.7,482.7 189.0,481.3 189.4,479.9 189.7,478.5 190.0,477.2 190.4,476.1 190.7,475.3 191.1,474.8 191.4,474.6 191.8,474.8 192.1,475.2 192.4,476.0 192.8,476.9 193.2,478.1 193.5,479.3 193.8,480.5 194.2,481.6 194.6,482.6 194.9,483.4 195.2,483.8 195.6,484.0 195.9,483.8 196.3,483.2 196.6,482.2 197.0,481.0 197.3,479.5 197.7,478.1 198.0,476.6 198.4,475.4 198.7,474.4 199.1,473.8 199.4,473.6 199.8,473.8 200.1,474.3 200.4,475.1 200.8,476.2 201.2,477.5 201.5,478.8 201.8,480.1 202.2,481.4 202.6,482.5 202.9,483.3 203.2,483.8 203.6,484.0 203.9,483.8 204.3,483.3 204.6,482.6 205.0,481.5 205.3,480.3 205.6,479.0 206.0,477.6 206.3,476.3 206.6,475.1 207.0,474.0 207.3,473.3 207.7,472.8 208.0,472.6 208.3,472.8 208.7,473.4 209.0,474.3 209.3,475.4 209.7,476.8 210.0,478.3 210.3,479.8 210.7,481.1 211.0,482.3 211.3,483.2 211.7,483.8 212.0,484.0 212.4,483.8 212.7,483.3 213.1,482.6 213.4,481.5 213.8,480.3 214.1,479.0 214.5,477.6 214.8,476.3 215.2,475.1 215.5,474.0 215.9,473.3 216.2,472.8 216.6,472.6 216.9,472.8 217.3,473.3 217.6,474.2 218.0,475.3 218.3,476.6 218.6,478.1 219.0,479.5 219.3,481.0 219.6,482.3 220.0,483.4 220.3,484.3 220.7,484.8 221.0,485.0 221.4,484.8 221.7,484.4 222.1,483.6 222.4,482.6 222.8,481.5 223.1,480.2 223.5,478.8 223.8,477.5 224.2,476.4 224.5,475.4 224.9,474.6 225.2,474.2 225.6,474.0 225.9,474.2 226.3,474.7 226.6,475.6 227.0,476.7 227.3,478.1 227.6,479.5 228.0,481.1 228.3,482.5 228.6,483.9 229.0,485.0 229.3,485.9 229.7,486.4 230.0,486.6 230.3,486.4 230.7,486.0 231.0,485.2 231.4,484.2 231.7,482.9 232.1,481.5 232.4,480.1 232.7,478.7 233.1,477.3 233.4,476.0 233.8,475.0 234.1,474.2 234.5,473.8 234.8,473.6 235.2,473.8 235.5,474.4 235.9,475.4 236.2,476.7 236.6,478.2 236.9,479.8 237.2,481.4 237.6,482.9 237.9,484.2 238.3,485.2 238.7,485.8 239.0,486.0 239.4,485.8 239.7,485.3 240.1,484.5 240.4,483.4 240.8,482.1 241.1,480.7 241.5,479.3 241.8,477.9 242.2,476.6 242.5,475.5 242.9,474.7 243.2,474.2 243.6,474.0 243.9,474.1 244.3,474.4 244.6,475.0 244.9,475.7 245.3,476.5 245.6,477.5 246.0,478.6 246.3,479.7 246.6,480.8 247.0,481.9 247.3,482.9 247.7,483.7 248.0,484.4 248.3,485.0 248.7,485.3 249.0,485.4 249.4,485.2 249.7,484.8 250.1,484.1 250.4,483.2 250.8,482.0 251.1,480.8 251.5,479.6 251.8,478.4 252.2,477.2 252.5,476.3 252.9,475.6 253.2,475.2 253.6,475.0 253.9,475.1 254.3,475.5 254.6,476.2 255.0,477.1 255.3,478.1 255.6,479.2 256.0,480.4 256.3,481.5 256.6,482.5 257.0,483.4 257.3,484.1 257.7,484.5 258.0,484.6 258.4,484.4 258.7,483.6 259.1,482.5 259.4,481.1 259.8,479.6 260.2,478.1 260.5,476.7 260.9,475.6 261.2,474.8 261.6,474.6 261.9,474.8 262.3,475.2 262.6,475.9 263.0,476.8 263.3,478.0 263.6,479.2 264.0,480.4 264.3,481.6 264.6,482.8 265.0,483.7 265.3,484.4 265.7,484.8 266.0,485.0 266.3,484.8 266.7,484.3 267.0,483.4 267.3,482.2 267.7,480.9 268.0,479.5 268.3,478.1 268.7,476.8 269.0,475.6 269.3,474.7 269.7,474.2 270.0,474.0 270.3,474.2 270.7,474.7 271.0,475.5 271.4,476.6 271.7,477.9 272.0,479.3 272.4,480.7 272.7,482.1 273.0,483.4 273.4,484.5 273.7,485.3 274.1,485.8 274.4,486.0 274.8,485.8 275.1,485.3 275.5,484.6 275.8,483.5 276.2,482.3 276.5,481.0 276.9,479.6 277.2,478.3 277.6,477.1 277.9,476.0 278.3,475.3 278.6,474.8 279.0,474.6 279.3,474.8 279.7,475.3 280.0,476.1 280.3,477.2 280.7,478.5 281.0,479.8 281.3,481.1 281.7,482.4 282.0,483.5 282.3,484.3 282.7,484.8 283.0,485.0 283.4,484.8 283.7,484.4 284.1,483.7 284.4,482.7 284.8,481.6 285.1,480.3 285.5,479.1 285.8,477.8 286.2,476.7 286.5,475.7 286.9,475.0 287.2,474.6 287.6,474.4 287.9,474.6 288.3,475.2 288.6,476.2 288.9,477.4 289.3,478.9 289.6,480.5 289.9,482.1 290.3,483.6 290.6,484.8 290.9,485.8 291.3,486.4 291.6,486.6 291.9,486.4 292.3,485.9 292.6,485.1 293.0,484.1 293.3,482.9 293.6,481.5 294.0,480.1 294.3,478.7 294.6,477.5 295.0,476.5 295.3,475.7 295.7,475.2 296.0,475.0 296.3,475.2 296.7,475.7 297.0,476.5 297.3,477.5 297.7,478.7 298.0,480.0 298.3,481.3 298.7,482.5 299.0,483.5 299.3,484.3 299.7,484.8 300.0,485.0 300.3,484.8 300.7,484.3 301.0,483.5 301.3,482.5 301.7,481.3 302.0,480.0 302.3,478.7 302.7,477.5 303.0,476.5 303.3,475.7 303.7,475.2 304.0,475.0 304.3,475.2 304.7,475.7 305.0,476.5 305.3,477.5 305.7,478.7 306.0,480.0 306.3,481.3 306.7,482.5 307.0,483.5 307.3,484.3 307.7,484.8 308.0,485.0 308.4,484.8 308.7,484.1 309.1,483.1 309.4,481.8 309.8,480.3 310.2,478.8 310.5,477.5 310.9,476.5 311.2,475.8 311.6,475.6 311.9,475.8 312.3,476.3 312.6,477.1 312.9,478.2 313.3,479.5 313.6,480.8 313.9,482.1 314.3,483.4 314.6,484.5 314.9,485.3 315.3,485.8 315.6,486.0 315.9,485.8 316.3,485.3 316.6,484.5 316.9,483.4 317.3,482.1 317.6,480.8 317.9,479.5 318.3,478.2 318.6,477.1 318.9,476.3 319.3,475.8 319.6,475.6 319.9,475.8 320.3,476.3 320.6,477.2 320.9,478.4 321.3,479.7 321.6,481.1 321.9,482.5 322.3,483.9 322.6,485.0 322.9,485.9 323.3,486.4 323.6,486.6 323.9,486.4 324.3,485.9 324.6,485.1 324.9,484.1 325.3,482.9 325.6,481.6 325.9,480.3 326.3,479.1 326.6,478.1 326.9,477.3 327.3,476.8 327.6,476.6 327.9,476.8 328.3,477.5 328.6,478.5 329.0,479.8 329.3,481.3 329.6,482.8 330.0,484.1 330.3,485.1 330.7,485.8 331.0,486.0 331.3,485.8 331.7,485.3 332.0,484.5 332.3,483.4 332.7,482.1 333.0,480.8 333.3,479.5 333.7,478.2 334.0,477.1 334.3,476.3 334.7,475.8 335.0,475.6 335.3,475.8 335.7,476.3 336.0,477.2 336.3,478.4 336.7,479.7 337.0,481.1 337.3,482.5 337.7,483.9 338.0,485.0 338.3,485.9 338.7,486.4 339.0,486.6 339.4,486.3 339.7,485.5 340.1,484.3 340.4,482.8 340.8,481.1 341.2,479.4 341.5,477.9 341.9,476.7 342.2,475.9 342.6,475.6 342.9,475.8 343.3,476.3 343.6,477.1 344.0,478.2 344.3,479.3 344.6,480.4 345.0,481.5 345.3,482.3 345.7,482.8 346.0,483.0 346.3,482.8 346.7,482.3 347.0,481.5 347.4,480.4 347.7,479.3 348.0,478.2 348.4,477.1 348.7,476.3 349.1,475.8 349.4,475.6 349.8,475.8 350.1,476.3 350.5,477.1 350.8,478.2 351.2,479.3 351.6,480.4 351.9,481.5 352.3,482.3 352.6,482.8 353.0,483.0 353.3,482.8 353.7,482.1 354.0,481.1 354.4,479.9 354.7,478.5 355.0,477.1 355.4,475.9 355.7,474.9 356.1,474.2 356.4,474.0 356.7,474.2 357.1,474.6 357.4,475.3 357.7,476.2 358.1,477.3 358.4,478.5 358.7,479.7 359.1,480.8 359.4,481.7 359.7,482.4 360.1,482.8 360.4,483.0 360.8,482.8 361.1,482.2 361.5,481.4 361.8,480.2 362.2,479.0 362.6,477.8 362.9,476.6 363.3,475.8 363.6,475.2 364.0,475.0 364.4,475.1 364.7,475.6 365.1,476.2 365.4,477.1 365.8,478.0 366.2,478.9 366.5,479.8 366.9,480.4 367.2,480.9 367.6,481.0 367.9,480.9 368.3,480.5 368.6,479.9 369.0,479.1 369.3,478.2 369.7,477.2 370.0,476.3 370.4,475.5 370.7,474.9 371.1,474.5 371.4,474.4 371.8,474.6 372.1,475.0 372.5,475.7 372.8,476.7 373.2,477.8 373.5,479.1 373.9,480.3 374.2,481.6 374.6,482.7 374.9,483.7 375.3,484.4 375.6,484.8 376.0,485.0 376.3,484.8 376.7,484.3 377.0,483.5 377.3,482.5 377.7,481.3 378.0,480.0 378.3,478.7 378.7,477.5 379.0,476.5 379.3,475.7 379.7,475.2 380.0,475.0 380.3,475.2 380.7,475.6 381.0,476.4 381.3,477.4 381.7,478.6 382.0,479.8 382.3,481.0 382.7,482.2 383.0,483.2 383.3,484.0 383.7,484.4 384.0,484.6 384.3,484.4 384.7,484.0 385.0,483.3 385.3,482.4 385.7,481.3 386.0,480.1 386.3,478.9 386.7,477.9 387.0,476.9 387.3,476.2 387.7,475.8 388.0,475.6 388.3,475.7 388.7,476.2 389.0,476.8 389.4,477.7 389.7,478.8 390.0,479.9 390.4,481.1 390.7,482.2 391.0,483.3 391.4,484.2 391.7,484.8 392.1,485.3 392.4,485.4 392.8,485.2 393.1,484.8 393.5,484.0 393.8,483.1 394.2,481.9 394.5,480.7 394.9,479.3 395.2,478.1 395.6,476.9 395.9,476.0 396.3,475.2 396.6,474.8 397.0,474.6 397.4,475.0 397.7,476.0 398.1,477.5 398.5,479.1 398.9,480.6 399.2,481.6 399.6,482.0" fill="none" stroke="#1a1a1a" stroke-width="1.5" stroke-linejoin="round" stroke-linecap="round" />
<text x="212.4" y="30.5" font-family="Liberation Serif" font-size="12.5" font-weight="normal" text-anchor="start" fill="#1a1a1a" textLength="15.2" lengthAdjust="spacingAndGlyphs" stroke="#1a1a1a" stroke-width="0.12">M</text>
<text x="230.3" y="30.5" font-family="Liberation Serif" font-size="12.5" font-weight="normal" text-anchor="start" fill="#1a1a1a" textLength="37.9" lengthAdjust="spacingAndGlyphs" stroke="#1a1a1a" stroke-width="0.12">ental</text>
<text x="274.0" y="30.5" font-family="Liberation Serif" font-size="12.5" font-weight="normal" text-anchor="start" fill="#1a1a1a" textLength="45.6" lengthAdjust="spacingAndGlyphs" stroke="#1a1a1a" stroke-width="0.12">Focus</text>
<text x="219.0" y="45.3" font-family="Liberation Serif" font-size="10.8" font-weight="normal" text-anchor="start" fill="#1a1a1a" textLength="49.0" lengthAdjust="spacingAndGlyphs" stroke="#1a1a1a" stroke-width="0.18">(Simple</text>
<text x="275.6" y="45.3" font-family="Liberation Serif" font-size="10.8" font-weight="normal" text-anchor="start" fill="#1a1a1a" textLength="8.4" lengthAdjust="spacingAndGlyphs" stroke="#1a1a1a" stroke-width="0.18">T</text>
<text x="286.0" y="45.3" font-family="Liberation Serif" font-size="10.8" font-weight="normal" text-anchor="start" fill="#1a1a1a" textLength="27.0" lengthAdjust="spacingAndGlyphs" stroke="#1a1a1a" stroke-width="0.18">ask)</text>
<text x="140.0" y="149.5" font-family="Liberation Serif" font-size="12.5" font-weight="normal" text-anchor="start" fill="#1a1a1a" textLength="28.0" lengthAdjust="spacingAndGlyphs" stroke="#1a1a1a" stroke-width="0.12">Psy</text>
<text x="171.0" y="149.5" font-family="Liberation Serif" font-size="12.5" font-weight="normal" text-anchor="start" fill="#1a1a1a" textLength="37.0" lengthAdjust="spacingAndGlyphs" stroke="#1a1a1a" stroke-width="0.12">chop</text>
<text x="211.0" y="149.5" font-family="Liberation Serif" font-size="12.5" font-weight="normal" text-anchor="start" fill="#1a1a1a" textLength="17.0" lengthAdjust="spacingAndGlyphs" stroke="#1a1a1a" stroke-width="0.12">hy</text>
<text x="231.4" y="149.5" font-family="Liberation Serif" font-size="12.5" font-weight="normal" text-anchor="start" fill="#1a1a1a" textLength="68.0" lengthAdjust="spacingAndGlyphs" stroke="#1a1a1a" stroke-width="0.12">siological</text>
<text x="308.0" y="149.5" font-family="Liberation Serif" font-size="12.5" font-weight="normal" text-anchor="start" fill="#1a1a1a" textLength="91.0" lengthAdjust="spacingAndGlyphs" stroke="#1a1a1a" stroke-width="0.12">Incoherence</text>
<text x="244.6" y="164.2" font-family="Liberation Serif" font-size="10.8" font-weight="normal" text-anchor="start" fill="#1a1a1a" textLength="48.8" lengthAdjust="spacingAndGlyphs" stroke="#1a1a1a" stroke-width="0.18">(Anger)</text>
<text x="229.0" y="283.6" font-family="Liberation Serif" font-size="12.5" font-weight="normal" text-anchor="start" fill="#1a1a1a" textLength="78.4" lengthAdjust="spacingAndGlyphs" stroke="#1a1a1a" stroke-width="0.12">Relaxation</text>
<text x="150.6" y="298.5" font-family="Liberation Serif" font-size="10.8" font-weight="normal" text-anchor="start" fill="#1a1a1a" textLength="59.2" lengthAdjust="spacingAndGlyphs" stroke="#1a1a1a" stroke-width="0.18">(&quot;Open-F</text>
<text x="212.4" y="298.5" font-family="Liberation Serif" font-size="10.8" font-weight="normal" text-anchor="start" fill="#1a1a1a" textLength="28.6" lengthAdjust="spacingAndGlyphs" stroke="#1a1a1a" stroke-width="0.18">ocus&quot;</text>
<text x="253.8" y="298.5" font-family="Liberation Serif" font-size="10.8" font-weight="normal" text-anchor="start" fill="#1a1a1a" textLength="67.6" lengthAdjust="spacingAndGlyphs" stroke="#1a1a1a" stroke-width="0.18">Relaxation</text>
<text x="327.8" y="298.5" font-family="Liberation Serif" font-size="10.8" font-weight="normal" text-anchor="start" fill="#1a1a1a" textLength="40.6" lengthAdjust="spacingAndGlyphs" stroke="#1a1a1a" stroke-width="0.18">Exerci</text>
<text x="369.6" y="298.5" font-family="Liberation Serif" font-size="10.8" font-weight="normal" text-anchor="start" fill="#1a1a1a" textLength="14.8" lengthAdjust="spacingAndGlyphs" stroke="#1a1a1a" stroke-width="0.18">se)</text>
<text x="142.6" y="412.2" font-family="Liberation Serif" font-size="12.5" font-weight="normal" text-anchor="start" fill="#1a1a1a" textLength="28.0" lengthAdjust="spacingAndGlyphs" stroke="#1a1a1a" stroke-width="0.12">Psy</text>
<text x="174.0" y="412.2" font-family="Liberation Serif" font-size="12.5" font-weight="normal" text-anchor="start" fill="#1a1a1a" textLength="36.6" lengthAdjust="spacingAndGlyphs" stroke="#1a1a1a" stroke-width="0.12">chop</text>
<text x="213.4" y="412.2" font-family="Liberation Serif" font-size="12.5" font-weight="normal" text-anchor="start" fill="#1a1a1a" textLength="17.2" lengthAdjust="spacingAndGlyphs" stroke="#1a1a1a" stroke-width="0.12">hy</text>
<text x="234.4" y="412.2" font-family="Liberation Serif" font-size="12.5" font-weight="normal" text-anchor="start" fill="#1a1a1a" textLength="68.6" lengthAdjust="spacingAndGlyphs" stroke="#1a1a1a" stroke-width="0.12">siological</text>
<text x="312.0" y="412.2" font-family="Liberation Serif" font-size="12.5" font-weight="normal" text-anchor="start" fill="#1a1a1a" textLength="77.0" lengthAdjust="spacingAndGlyphs" stroke="#1a1a1a" stroke-width="0.12">Coherence</text>
<text x="220.6" y="427.2" font-family="Liberation Serif" font-size="10.8" font-weight="normal" text-anchor="start" fill="#1a1a1a" textLength="90.4" lengthAdjust="spacingAndGlyphs" stroke="#1a1a1a" stroke-width="0.18">(Appreciation)</text>
<line x1="484.2" y1="34.4" x2="484.2" y2="118.0" stroke="#111" stroke-width="1.55"/>
<line x1="474.5" y1="111.6" x2="660.7" y2="111.6" stroke="#555" stroke-width="1.4"/>
<line x1="474.5" y1="111.6" x2="484.2" y2="111.6" stroke="#4a4a4a" stroke-width="0.9"/>
<text x="470.2" y="115.5" font-family="Liberation Sans" font-size="11" font-weight="normal" text-anchor="end" fill="#1a1a1a" textLength="8.9" lengthAdjust="spacingAndGlyphs" stroke="#1a1a1a" stroke-width="0.4">0</text>
<line x1="474.5" y1="86.0" x2="484.2" y2="86.0" stroke="#4a4a4a" stroke-width="0.9"/>
<text x="469.2" y="89.9" font-family="Liberation Sans" font-size="11" font-weight="normal" text-anchor="end" fill="#1a1a1a" textLength="16.9" lengthAdjust="spacingAndGlyphs" stroke="#1a1a1a" stroke-width="0.4">50</text>
<line x1="474.5" y1="60.5" x2="484.2" y2="60.5" stroke="#4a4a4a" stroke-width="0.9"/>
<text x="468.6" y="64.4" font-family="Liberation Sans" font-size="11" font-weight="normal" text-anchor="end" fill="#1a1a1a" textLength="25.3" lengthAdjust="spacingAndGlyphs" stroke="#1a1a1a" stroke-width="0.4">100</text>
<line x1="474.5" y1="34.9" x2="484.2" y2="34.9" stroke="#4a4a4a" stroke-width="0.9"/>
<text x="468.6" y="38.8" font-family="Liberation Sans" font-size="11" font-weight="normal" text-anchor="end" fill="#1a1a1a" textLength="25.3" lengthAdjust="spacingAndGlyphs" stroke="#1a1a1a" stroke-width="0.4">150</text>
<line x1="480.4" y1="98.8" x2="484.2" y2="98.8" stroke="#8c8c8c" stroke-width="0.9"/>
<line x1="480.4" y1="73.2" x2="484.2" y2="73.2" stroke="#8c8c8c" stroke-width="0.9"/>
<line x1="480.4" y1="47.7" x2="484.2" y2="47.7" stroke="#8c8c8c" stroke-width="0.9"/>
<line x1="484.2" y1="111.6" x2="484.2" y2="118.5" stroke="#4a4a4a" stroke-width="1.2"/>
<line x1="528.2" y1="111.6" x2="528.2" y2="118.5" stroke="#4a4a4a" stroke-width="1.2"/>
<line x1="572.2" y1="111.6" x2="572.2" y2="118.5" stroke="#4a4a4a" stroke-width="1.2"/>
<line x1="616.2" y1="111.6" x2="616.2" y2="118.5" stroke="#4a4a4a" stroke-width="1.2"/>
<line x1="660.2" y1="111.1" x2="660.2" y2="118.5" stroke="#222" stroke-width="1.5"/>
<g transform="translate(429.2,73.8) rotate(-90)">
<text x="0.0" y="6.1" font-family="Liberation Sans" font-size="17" font-weight="bold" text-anchor="middle" fill="#1a1a1a" textLength="68.5" lengthAdjust="spacingAndGlyphs" stroke="#1a1a1a" stroke-width="0.15" stroke-linejoin="round">PSD (ms2/Hz)</text>
</g>
<line x1="484.2" y1="154.8" x2="484.2" y2="238.3" stroke="#111" stroke-width="1.55"/>
<line x1="474.5" y1="231.9" x2="660.7" y2="231.9" stroke="#555" stroke-width="1.4"/>
<line x1="474.5" y1="231.9" x2="484.2" y2="231.9" stroke="#4a4a4a" stroke-width="0.9"/>
<text x="470.2" y="235.8" font-family="Liberation Sans" font-size="11" font-weight="normal" text-anchor="end" fill="#1a1a1a" textLength="8.9" lengthAdjust="spacingAndGlyphs" stroke="#1a1a1a" stroke-width="0.4">0</text>
<line x1="474.5" y1="206.4" x2="484.2" y2="206.4" stroke="#4a4a4a" stroke-width="0.9"/>
<text x="469.2" y="210.3" font-family="Liberation Sans" font-size="11" font-weight="normal" text-anchor="end" fill="#1a1a1a" textLength="16.9" lengthAdjust="spacingAndGlyphs" stroke="#1a1a1a" stroke-width="0.4">50</text>
<line x1="474.5" y1="180.8" x2="484.2" y2="180.8" stroke="#4a4a4a" stroke-width="0.9"/>
<text x="468.6" y="184.7" font-family="Liberation Sans" font-size="11" font-weight="normal" text-anchor="end" fill="#1a1a1a" textLength="25.3" lengthAdjust="spacingAndGlyphs" stroke="#1a1a1a" stroke-width="0.4">100</text>
<line x1="474.5" y1="155.3" x2="484.2" y2="155.3" stroke="#4a4a4a" stroke-width="0.9"/>
<text x="468.6" y="159.2" font-family="Liberation Sans" font-size="11" font-weight="normal" text-anchor="end" fill="#1a1a1a" textLength="25.3" lengthAdjust="spacingAndGlyphs" stroke="#1a1a1a" stroke-width="0.4">150</text>
<line x1="480.4" y1="219.1" x2="484.2" y2="219.1" stroke="#8c8c8c" stroke-width="0.9"/>
<line x1="480.4" y1="193.6" x2="484.2" y2="193.6" stroke="#8c8c8c" stroke-width="0.9"/>
<line x1="480.4" y1="168.1" x2="484.2" y2="168.1" stroke="#8c8c8c" stroke-width="0.9"/>
<line x1="484.2" y1="231.9" x2="484.2" y2="238.8" stroke="#4a4a4a" stroke-width="1.2"/>
<line x1="528.2" y1="231.9" x2="528.2" y2="238.8" stroke="#4a4a4a" stroke-width="1.2"/>
<line x1="572.2" y1="231.9" x2="572.2" y2="238.8" stroke="#4a4a4a" stroke-width="1.2"/>
<line x1="616.2" y1="231.9" x2="616.2" y2="238.8" stroke="#4a4a4a" stroke-width="1.2"/>
<line x1="660.2" y1="231.4" x2="660.2" y2="238.8" stroke="#222" stroke-width="1.5"/>
<g transform="translate(429.2,194.2) rotate(-90)">
<text x="0.0" y="6.1" font-family="Liberation Sans" font-size="17" font-weight="bold" text-anchor="middle" fill="#1a1a1a" textLength="68.5" lengthAdjust="spacingAndGlyphs" stroke="#1a1a1a" stroke-width="0.15" stroke-linejoin="round">PSD (ms2/Hz)</text>
</g>
<line x1="484.2" y1="287.6" x2="484.2" y2="371.1" stroke="#111" stroke-width="1.55"/>
<line x1="474.5" y1="364.7" x2="660.7" y2="364.7" stroke="#555" stroke-width="1.4"/>
<line x1="474.5" y1="364.7" x2="484.2" y2="364.7" stroke="#4a4a4a" stroke-width="0.9"/>
<text x="470.2" y="368.6" font-family="Liberation Sans" font-size="11" font-weight="normal" text-anchor="end" fill="#1a1a1a" textLength="8.9" lengthAdjust="spacingAndGlyphs" stroke="#1a1a1a" stroke-width="0.4">0</text>
<line x1="474.5" y1="339.2" x2="484.2" y2="339.2" stroke="#4a4a4a" stroke-width="0.9"/>
<text x="469.2" y="343.1" font-family="Liberation Sans" font-size="11" font-weight="normal" text-anchor="end" fill="#1a1a1a" textLength="16.9" lengthAdjust="spacingAndGlyphs" stroke="#1a1a1a" stroke-width="0.4">50</text>
<line x1="474.5" y1="313.6" x2="484.2" y2="313.6" stroke="#4a4a4a" stroke-width="0.9"/>
<text x="468.6" y="317.5" font-family="Liberation Sans" font-size="11" font-weight="normal" text-anchor="end" fill="#1a1a1a" textLength="25.3" lengthAdjust="spacingAndGlyphs" stroke="#1a1a1a" stroke-width="0.4">100</text>
<line x1="474.5" y1="288.1" x2="484.2" y2="288.1" stroke="#4a4a4a" stroke-width="0.9"/>
<text x="468.6" y="292.0" font-family="Liberation Sans" font-size="11" font-weight="normal" text-anchor="end" fill="#1a1a1a" textLength="25.3" lengthAdjust="spacingAndGlyphs" stroke="#1a1a1a" stroke-width="0.4">150</text>
<line x1="480.4" y1="351.9" x2="484.2" y2="351.9" stroke="#8c8c8c" stroke-width="0.9"/>
<line x1="480.4" y1="326.4" x2="484.2" y2="326.4" stroke="#8c8c8c" stroke-width="0.9"/>
<line x1="480.4" y1="300.9" x2="484.2" y2="300.9" stroke="#8c8c8c" stroke-width="0.9"/>
<line x1="484.2" y1="364.7" x2="484.2" y2="371.6" stroke="#4a4a4a" stroke-width="1.2"/>
<line x1="528.2" y1="364.7" x2="528.2" y2="371.6" stroke="#4a4a4a" stroke-width="1.2"/>
<line x1="572.2" y1="364.7" x2="572.2" y2="371.6" stroke="#4a4a4a" stroke-width="1.2"/>
<line x1="616.2" y1="364.7" x2="616.2" y2="371.6" stroke="#4a4a4a" stroke-width="1.2"/>
<line x1="660.2" y1="364.2" x2="660.2" y2="371.6" stroke="#222" stroke-width="1.5"/>
<g transform="translate(429.2,327.0) rotate(-90)">
<text x="0.0" y="6.1" font-family="Liberation Sans" font-size="17" font-weight="bold" text-anchor="middle" fill="#1a1a1a" textLength="68.5" lengthAdjust="spacingAndGlyphs" stroke="#1a1a1a" stroke-width="0.15" stroke-linejoin="round">PSD (ms2/Hz)</text>
</g>
<line x1="484.2" y1="446.2" x2="484.2" y2="500.2" stroke="#111" stroke-width="1.55"/>
<line x1="484.2" y1="417.0" x2="484.2" y2="435.7" stroke="#111" stroke-width="1.55"/>
<line x1="474.5" y1="493.8" x2="660.7" y2="493.8" stroke="#555" stroke-width="1.4"/>
<line x1="474.5" y1="493.8" x2="484.2" y2="493.8" stroke="#4a4a4a" stroke-width="0.9"/>
<text x="470.2" y="497.7" font-family="Liberation Sans" font-size="11" font-weight="normal" text-anchor="end" fill="#1a1a1a" textLength="8.9" lengthAdjust="spacingAndGlyphs" stroke="#1a1a1a" stroke-width="0.4">0</text>
<line x1="474.5" y1="477.8" x2="484.2" y2="477.8" stroke="#4a4a4a" stroke-width="0.9"/>
<text x="469.2" y="481.7" font-family="Liberation Sans" font-size="11" font-weight="normal" text-anchor="end" fill="#1a1a1a" textLength="16.9" lengthAdjust="spacingAndGlyphs" stroke="#1a1a1a" stroke-width="0.4">50</text>
<line x1="474.5" y1="461.9" x2="484.2" y2="461.9" stroke="#4a4a4a" stroke-width="0.9"/>
<text x="468.6" y="465.8" font-family="Liberation Sans" font-size="11" font-weight="normal" text-anchor="end" fill="#1a1a1a" textLength="25.3" lengthAdjust="spacingAndGlyphs" stroke="#1a1a1a" stroke-width="0.4">100</text>
<line x1="474.5" y1="445.9" x2="484.2" y2="445.9" stroke="#4a4a4a" stroke-width="0.9"/>
<text x="468.6" y="449.8" font-family="Liberation Sans" font-size="11" font-weight="normal" text-anchor="end" fill="#1a1a1a" textLength="25.3" lengthAdjust="spacingAndGlyphs" stroke="#1a1a1a" stroke-width="0.4">150</text>
<line x1="480.4" y1="485.8" x2="484.2" y2="485.8" stroke="#8c8c8c" stroke-width="0.9"/>
<line x1="480.4" y1="469.9" x2="484.2" y2="469.9" stroke="#8c8c8c" stroke-width="0.9"/>
<line x1="480.4" y1="453.9" x2="484.2" y2="453.9" stroke="#8c8c8c" stroke-width="0.9"/>
<line x1="474.5" y1="417.5" x2="484.2" y2="417.5" stroke="#4a4a4a" stroke-width="0.9"/>
<text x="468.6" y="421.4" font-family="Liberation Sans" font-size="11" font-weight="bold" text-anchor="end" fill="#1a1a1a" textLength="25.3" lengthAdjust="spacingAndGlyphs" stroke="#1a1a1a" stroke-width="0.4">700</text>
<line x1="474.5" y1="426.2" x2="484.2" y2="426.2" stroke="#4a4a4a" stroke-width="0.9"/>
<line x1="474.5" y1="434.9" x2="484.2" y2="434.9" stroke="#4a4a4a" stroke-width="0.9"/>
<text x="468.6" y="438.8" font-family="Liberation Sans" font-size="11" font-weight="normal" text-anchor="end" fill="#1a1a1a" textLength="25.3" lengthAdjust="spacingAndGlyphs" stroke="#1a1a1a" stroke-width="0.4">600</text>
<line x1="480.0" y1="421.9" x2="484.2" y2="421.9" stroke="#8c8c8c" stroke-width="0.8"/>
<line x1="480.0" y1="430.5" x2="484.2" y2="430.5" stroke="#8c8c8c" stroke-width="0.8"/>
<line x1="479.8" y1="437.9" x2="489.8" y2="432.4" stroke="#1a1a1a" stroke-width="1.7"/>
<line x1="479.8" y1="448.8" x2="489.8" y2="443.4" stroke="#1a1a1a" stroke-width="1.7"/>
<line x1="484.2" y1="493.8" x2="484.2" y2="500.7" stroke="#4a4a4a" stroke-width="1.2"/>
<line x1="528.2" y1="493.8" x2="528.2" y2="500.7" stroke="#4a4a4a" stroke-width="1.2"/>
<line x1="572.2" y1="493.8" x2="572.2" y2="500.7" stroke="#4a4a4a" stroke-width="1.2"/>
<line x1="616.2" y1="493.8" x2="616.2" y2="500.7" stroke="#4a4a4a" stroke-width="1.2"/>
<line x1="660.2" y1="493.3" x2="660.2" y2="500.7" stroke="#222" stroke-width="1.5"/>
<g transform="translate(429.2,455.4) rotate(-90)">
<text x="0.0" y="6.1" font-family="Liberation Sans" font-size="17" font-weight="bold" text-anchor="middle" fill="#1a1a1a" textLength="68.5" lengthAdjust="spacingAndGlyphs" stroke="#1a1a1a" stroke-width="0.15" stroke-linejoin="round">PSD (ms2/Hz)</text>
</g>
<text x="482.6" y="513.1" font-family="Liberation Sans" font-size="11" font-weight="normal" text-anchor="middle" fill="#1a1a1a" textLength="8.6" lengthAdjust="spacingAndGlyphs" stroke="#1a1a1a" stroke-width="0.4">0</text>
<text x="526.6" y="513.1" font-family="Liberation Sans" font-size="11" font-weight="normal" text-anchor="middle" fill="#1a1a1a" textLength="21.0" lengthAdjust="spacingAndGlyphs" stroke="#1a1a1a" stroke-width="0.4">0.1</text>
<text x="570.6" y="513.1" font-family="Liberation Sans" font-size="11" font-weight="normal" text-anchor="middle" fill="#1a1a1a" textLength="21.0" lengthAdjust="spacingAndGlyphs" stroke="#1a1a1a" stroke-width="0.4">0.2</text>
<text x="614.6" y="513.1" font-family="Liberation Sans" font-size="11" font-weight="normal" text-anchor="middle" fill="#1a1a1a" textLength="21.0" lengthAdjust="spacingAndGlyphs" stroke="#1a1a1a" stroke-width="0.4">0.3</text>
<text x="658.6" y="513.1" font-family="Liberation Sans" font-size="11" font-weight="normal" text-anchor="middle" fill="#1a1a1a" textLength="21.0" lengthAdjust="spacingAndGlyphs" stroke="#1a1a1a" stroke-width="0.4">0.4</text>
<polyline points="484.7,111.0 485.0,80.0 485.5,34.8" fill="none" stroke="#1a1a1a" stroke-width="1.6" stroke-linejoin="round" stroke-linecap="round" />
<path d="M487.8,34.6 C487.9,38.2 488.6,64.3 488.8,71.2 C489.0,78.2 489.8,104.1 490.2,104.1 C490.6,103.3 492.5,62.6 493.0,62.6 C493.4,62.8 494.4,103.6 494.7,105.8 C494.9,105.8 495.2,87.1 495.4,85.1 C495.6,85.1 496.5,85.1 496.8,86.0 C497.0,87.2 497.9,94.6 498.1,97.2 C498.4,99.8 499.0,111.6 499.4,111.6 C499.7,110.0 501.6,84.1 501.9,81.3 C502.3,81.3 502.6,81.3 502.8,83.4 C503.0,85.8 503.4,103.5 503.7,105.8 C504.0,106.7 505.4,106.5 505.8,106.7 C506.1,107.0 507.1,108.4 507.5,108.4 C507.9,108.2 509.2,104.2 509.7,104.1 C510.3,104.1 512.4,107.9 513.0,108.0 C513.6,108.0 515.0,105.0 515.4,105.0 C515.8,105.1 517.0,108.4 517.4,109.0 C517.8,109.6 518.6,111.3 519.0,111.4 C519.4,111.4 520.5,110.5 521.0,110.0 C521.5,109.5 523.5,106.0 524.0,106.0 C524.5,106.0 525.6,109.5 526.0,110.0 C526.4,110.5 527.5,111.4 528.0,111.4 C528.5,110.8 530.5,104.1 531.0,104.0 C531.5,104.0 533.0,109.6 533.4,110.0 C533.8,110.0 534.9,108.0 535.4,108.0 C535.9,108.0 537.5,110.4 538.0,110.4 C538.5,110.4 539.5,107.6 540.0,107.6 C540.5,107.6 542.1,110.3 542.6,110.4 C543.1,110.4 544.2,109.0 544.6,109.0 C545.0,109.1 546.5,111.2 547.0,111.4 C547.5,111.4 549.0,111.4 549.4,111.4 C549.8,111.0 550.9,107.0 551.4,107.0 C551.9,107.0 553.4,110.7 554.0,111.0 C554.6,111.0 556.3,110.0 557.0,110.0 C557.7,110.0 560.2,111.4 561.0,111.4 C561.8,111.4 564.3,110.1 565.0,110.0 C565.7,110.0 567.5,110.6 568.0,110.6 C568.5,110.6 569.5,109.9 570.0,109.6 C570.5,109.3 572.5,108.0 573.0,108.0 C573.5,108.0 574.6,110.0 575.0,110.0 C575.4,110.0 576.5,108.4 577.0,108.4 C577.5,108.4 579.4,109.9 580.0,110.0 C580.6,110.0 582.4,109.0 583.0,109.0 C583.6,109.0 585.4,110.2 586.0,110.4 C586.6,110.6 588.4,110.5 589.0,110.6 C589.6,110.7 590.9,110.9 592.0,111.0 C593.1,111.1 598.4,111.2 600.0,111.2 C601.6,111.2 606.9,111.0 608.0,111.0 C609.1,111.0 610.2,111.4 611.0,111.4 C611.8,111.4 615.2,111.1 616.0,111.0 C616.8,110.9 618.4,110.5 619.0,110.4 C619.6,110.3 621.3,110.0 622.0,110.0 C622.7,110.0 625.2,110.5 626.0,110.6 C626.8,110.6 629.4,110.6 630.0,110.6 C630.6,110.7 631.0,111.1 632.0,111.2 C633.0,111.2 638.8,111.2 640.0,111.2 C641.2,111.2 643.6,110.8 644.0,110.8" fill="none" stroke="#1a1a1a" stroke-width="1.6" stroke-linejoin="round" stroke-linecap="round"/>
<path d="M484.1,231.7 C484.2,229.8 484.3,222.7 484.5,215.7 C484.6,208.7 485.1,176.8 485.3,171.6 C485.6,171.6 486.2,171.6 486.4,171.6 C486.6,174.1 486.8,188.1 486.9,193.2 C487.0,198.4 487.3,211.5 487.4,215.7 C487.6,220.0 487.9,228.8 488.1,229.6 C488.4,229.6 489.1,223.4 489.5,222.7 C489.9,222.7 491.2,222.7 491.6,223.5 C492.0,224.4 492.7,230.2 493.0,230.4 C493.3,230.4 493.9,225.5 494.2,225.3 C494.4,225.3 495.1,228.2 495.4,228.7 C495.7,229.2 496.4,229.6 496.8,229.6 C497.2,229.1 498.4,224.5 498.8,224.4 C499.2,224.4 499.9,227.9 500.2,228.7 C500.6,229.6 501.4,231.7 501.9,231.7 C502.5,231.7 504.0,229.2 504.5,228.7 C505.0,228.3 505.8,228.7 506.3,227.8 C506.8,226.3 508.4,216.8 508.9,215.4 C509.3,215.4 509.6,215.4 509.9,215.7 C510.2,217.0 511.1,224.3 511.5,226.1 C511.8,227.9 512.2,231.0 512.7,231.0 C513.1,230.0 515.0,218.9 515.4,217.5 C515.9,217.5 516.3,217.5 516.7,218.3 C517.0,219.8 518.0,228.9 518.4,230.4 C518.8,231.7 519.6,231.7 520.1,231.7 C520.6,231.5 522.1,229.3 522.7,228.7 C523.3,228.1 524.9,226.6 525.3,226.5 C525.7,226.5 526.2,227.2 526.5,227.8 C526.9,228.5 527.7,231.2 528.4,231.7 C529.2,231.7 531.7,231.6 533.1,231.5 C534.4,231.4 538.9,230.6 540.0,230.6 C541.1,230.6 542.3,231.4 542.6,231.5" fill="none" stroke="#1a1a1a" stroke-width="1.6" stroke-linejoin="round" stroke-linecap="round"/>
<path d="M484.0,364.4 C484.1,363.0 484.8,353.2 485.0,352.0 C485.2,352.0 485.7,354.0 486.0,354.0 C486.3,349.9 487.1,319.3 487.4,317.0 C487.7,317.0 488.3,329.0 488.6,334.0 C488.9,339.0 489.7,360.0 490.0,360.0 C490.3,359.8 490.8,337.4 491.0,332.0 C491.2,326.6 491.7,317.8 492.0,314.0 C492.3,310.2 493.0,300.7 493.4,299.6 C493.8,299.6 494.7,304.0 495.0,305.0 C495.3,306.0 495.8,305.3 496.0,308.0 C496.2,310.7 496.8,323.7 497.0,328.0 C497.2,332.3 497.7,342.0 498.0,345.0 C498.3,348.0 499.1,352.5 499.4,354.0 C499.7,355.5 500.3,358.0 500.6,358.0 C500.9,358.0 501.7,353.7 502.0,353.6 C502.3,353.6 503.0,355.8 503.4,357.0 C503.8,358.2 504.6,364.0 505.0,364.0 C505.4,364.0 506.2,357.9 506.6,357.0 C507.0,356.4 507.7,356.8 508.0,356.4 C508.3,356.0 509.1,354.0 509.4,354.0 C509.7,354.1 510.3,355.9 510.6,357.0 C510.9,358.1 511.6,362.2 512.0,363.0 C512.4,363.8 513.5,364.0 514.0,364.0 C514.5,364.0 515.5,364.0 516.0,363.0 C516.5,361.7 517.6,354.8 518.0,353.0 C518.4,351.2 519.0,347.6 519.4,347.6 C519.8,347.7 520.6,353.0 521.0,353.6 C521.4,353.6 522.2,353.0 522.6,353.0 C523.0,353.4 523.7,355.8 524.0,357.0 C524.3,358.2 525.0,362.5 525.4,363.0 C525.8,363.0 526.7,361.0 527.0,361.0 C527.3,361.1 527.7,364.0 528.0,364.0 C528.3,363.8 529.1,359.2 529.4,359.0 C529.7,359.0 530.2,362.0 530.6,362.0 C531.0,361.4 532.2,355.4 532.6,353.6 C533.0,351.9 533.7,347.0 534.0,347.0 C534.3,347.2 535.0,353.1 535.4,355.0 C535.8,356.9 536.6,361.9 537.0,363.0 C537.4,364.0 538.5,363.9 539.0,364.0 C539.5,364.0 540.6,364.0 541.0,364.0 C541.4,363.8 542.2,362.0 542.6,362.0 C543.0,362.0 543.5,363.8 544.0,364.0 C544.5,364.0 546.4,364.0 547.0,364.0 C547.6,363.9 548.6,364.0 549.0,363.0 C549.4,361.1 550.2,351.4 550.6,348.0 C551.0,344.6 551.7,336.1 552.0,334.0 C552.3,331.9 552.7,330.4 553.0,330.4 C553.3,331.3 554.2,341.9 554.6,342.0 C555.0,342.0 555.6,332.7 556.0,331.0 C556.4,329.3 557.3,327.6 557.6,327.6 C557.9,328.7 558.3,336.8 558.6,340.0 C558.9,343.2 559.7,352.6 560.0,355.0 C560.3,357.4 561.0,359.7 561.4,360.4 C561.8,361.0 562.6,361.0 563.0,361.0 C563.4,360.0 564.1,353.1 564.6,352.0 C565.1,351.6 566.6,351.6 567.0,351.6 C567.4,351.7 567.7,352.3 568.0,353.0 C568.3,353.7 568.9,357.9 569.4,358.0 C569.9,358.0 571.3,355.0 572.0,353.6 C572.7,352.2 574.5,346.4 575.0,346.4 C575.5,346.7 575.9,355.1 576.2,356.0 C576.5,356.0 577.1,354.0 577.4,354.0 C577.7,354.5 578.3,359.5 578.6,360.0 C578.9,360.0 579.7,358.0 580.0,358.0 C580.3,358.1 581.0,360.7 581.4,361.0 C581.8,361.0 582.6,360.4 583.0,360.4 C583.4,360.6 584.2,362.6 584.6,363.0 C585.0,363.4 585.7,363.9 586.0,364.0 C586.3,364.0 586.7,364.0 587.0,364.0 C587.3,363.5 588.1,361.1 588.4,360.0 C588.7,358.9 589.3,355.0 589.6,355.0 C589.9,355.0 590.7,359.1 591.0,360.0 C591.3,360.9 592.0,362.5 592.4,363.0 C592.8,363.5 593.9,364.0 594.4,364.0 C594.9,364.0 596.5,363.0 597.0,363.0 C597.5,363.0 598.5,364.0 599.0,364.0 C599.5,363.9 600.5,362.0 601.0,362.0 C601.5,362.0 603.3,363.4 603.6,363.6" fill="none" stroke="#1a1a1a" stroke-width="1.6" stroke-linejoin="round" stroke-linecap="round"/>
<path d="M484.0,493.6 C484.1,493.1 484.4,489.4 484.6,489.0 C484.8,489.0 485.7,489.5 486.0,490.0 C486.3,490.5 486.6,493.4 487.0,493.6 C487.4,493.6 488.5,492.5 489.0,492.0 C489.5,491.5 490.5,489.8 491.0,489.6 C491.5,489.6 492.6,489.6 493.0,490.0 C493.4,490.4 494.1,492.8 494.6,493.2 C495.1,493.6 496.4,493.6 497.0,493.6 C497.6,493.6 499.4,492.8 500.0,492.8 C500.6,492.8 501.4,493.6 502.0,493.6 C502.6,493.6 504.3,493.2 505.0,493.2 C505.7,493.2 507.3,493.6 508.0,493.6 C508.7,493.6 510.4,492.8 511.0,492.8 C511.6,492.8 512.4,493.5 513.0,493.6 C513.6,493.6 515.4,493.6 516.0,493.6 C516.6,493.4 517.6,491.6 518.0,491.6 C518.4,491.6 519.1,493.1 519.4,493.2 C519.7,493.2 520.0,492.3 520.4,492.3 C520.7,492.3 522.0,492.6 522.5,492.6 C522.9,492.3 523.7,490.5 524.2,489.2 C524.7,487.8 526.3,481.1 526.8,480.9 C527.3,480.9 528.2,486.3 528.5,487.4 C528.8,488.6 529.2,490.9 529.4,490.9 C529.6,489.7 530.0,482.4 530.2,477.1 C530.4,471.8 531.0,449.3 531.1,445.7" fill="none" stroke="#1a1a1a" stroke-width="1.6" stroke-linejoin="round" stroke-linecap="round"/>
<path d="M535.9,445.7 C536.0,447.3 536.4,457.7 536.6,459.8 C536.8,462.0 537.3,464.0 537.5,464.1 C537.7,464.1 538.1,461.2 538.3,461.2 C538.6,461.7 539.0,465.8 539.4,468.4 C539.7,471.1 541.1,481.7 541.5,484.0 C541.8,486.3 542.3,488.3 542.7,488.3 C543.0,488.1 544.0,482.3 544.4,482.3 C544.7,482.3 545.5,487.1 545.8,488.3 C546.1,489.6 546.3,492.4 547.0,493.0 C547.7,493.3 551.4,493.3 552.0,493.3" fill="none" stroke="#1a1a1a" stroke-width="1.6" stroke-linejoin="round" stroke-linecap="round"/>
<path d="M534.05,420.8 L534.6,435.6 L532.9,435.6 Z" fill="#1a1a1a" stroke="#1a1a1a" stroke-width="0.6" stroke-linejoin="round"/>
</g>
</svg>
</body></html>
